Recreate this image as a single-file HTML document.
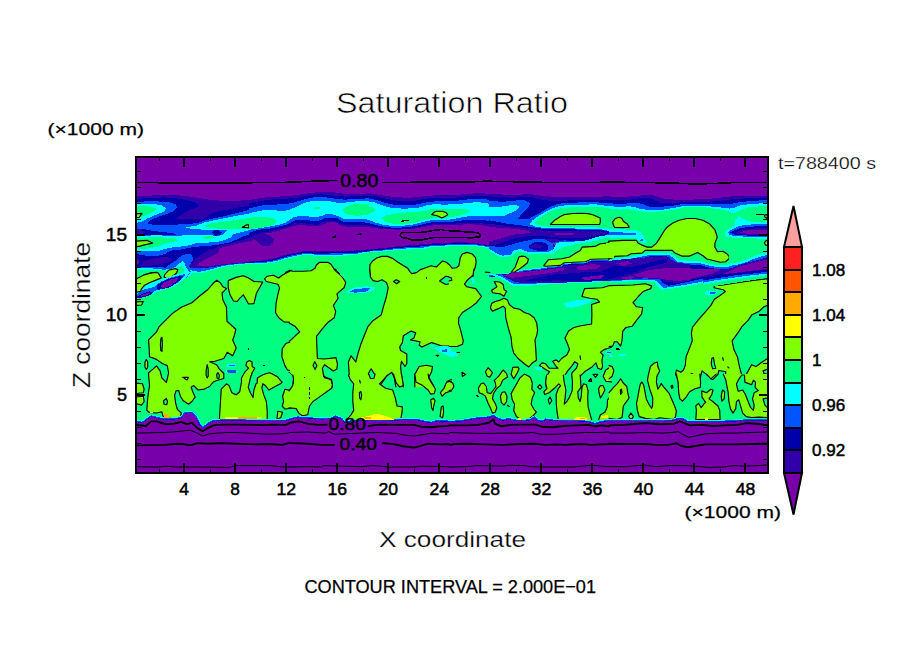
<!DOCTYPE html>
<html><head><meta charset="utf-8"><title>Saturation Ratio</title>
<style>
html,body{margin:0;padding:0;background:#fff;}
svg{display:block;font-family:"Liberation Sans",sans-serif;}
.c{shape-rendering:crispEdges;}
.t{fill:#000;}
.tb{fill:#000;stroke:#000;stroke-width:0.5;}
.tb2{fill:#000;stroke:#000;stroke-width:0.25;}
</style></head><body>
<svg width="904" height="654" viewBox="0 0 904 654">
<rect width="904" height="654" fill="#fff"/>
<defs><clipPath id="pc"><rect x="136" y="157" width="632" height="316"/></clipPath></defs>
<g class="c" clip-path="url(#pc)">
<rect x="136" y="157" width="632" height="316" fill="#7800aa"/>
<rect x="136" y="272" width="632" height="155" fill="#00ff80"/>
<polygon fill="#3200aa"  points="135.3,196.4 145.9,195.8 156.5,195.3 173.8,195.0 185.8,196.0 192.4,196.9 199.0,198.0 207.0,199.3 215.0,200.4 233.5,200.9 242.8,200.4 250.8,199.8 250.8,277.6 135.3,277.6"/>
<polygon fill="#0000aa"  points="135.3,199.0 149.9,198.0 164.5,197.4 175.1,198.2 185.8,200.0 193.7,201.9 198.4,204.3 199.0,206.6 193.7,208.6 187.1,211.2 180.4,215.2 177.1,218.5 191.1,218.9 204.3,218.5 208.3,215.2 215.0,211.9 225.6,209.9 236.2,207.9 244.2,206.6 250.8,205.4 250.8,277.6 135.3,277.6"/>
<polygon fill="#3200aa"  points="135.3,229.2 141.3,229.2 143.9,231.8 144.6,234.5 135.3,234.9"/>
<polygon fill="#3200aa"  points="141.9,262.7 145.9,260.4 153.9,258.4 163.2,257.0 169.8,257.7 172.5,259.7 168.5,262.3 160.5,264.3 149.9,265.9 142.6,266.3"/>
<polygon fill="#3200aa"  points="188.4,266.7 190.4,263.7 193.7,260.4 197.7,257.0 202.3,253.7 206.3,251.3 209.6,249.5 215.0,248.4 218.7,246.4 222.9,244.4 230.9,243.4 238.9,241.1 245.5,239.4 250.8,237.8 250.8,263.3 236.2,264.6 222.9,265.9 215.0,267.3 204.3,268.3 193.7,268.6"/>
<polygon fill="#7800aa"  points="197.0,265.9 199.0,263.3 202.3,261.0 206.3,259.0 209.6,257.0 214.3,255.0 217.0,253.5 218.9,251.3 219.2,249.1 222.9,247.3 228.2,246.0 234.9,244.2 240.2,243.1 245.5,242.0 250.8,241.1 250.8,261.7 244.2,262.3 236.2,263.0 222.9,264.3 215.0,265.4 209.6,266.2"/>
<polygon fill="#7800aa"  points="135.3,259.3 138.0,259.3 139.0,262.3 138.0,264.3 135.3,264.3"/>
<polygon fill="#0055ff"  points="135.3,201.7 153.9,201.3 168.5,201.9 175.8,204.6 177.1,207.9 173.8,211.2 163.2,215.2 153.9,218.5 148.6,221.2 147.9,223.9 153.9,224.8 169.8,224.8 185.8,224.2 196.4,223.2 204.3,220.8 215.0,218.1 225.6,215.9 236.2,213.2 244.2,211.2 250.8,209.6 250.8,233.8 242.8,236.7 236.2,239.8 230.9,242.0 222.9,243.8 216.3,245.1 209.6,245.8 203.0,246.4 196.4,246.6 189.7,247.7 183.1,249.2 176.5,250.0 169.8,250.8 165.8,253.7 156.5,256.0 148.6,256.0 140.6,255.0 135.3,253.7"/>
<polygon fill="#0055ff"  points="163.2,277.6 164.5,271.0 165.8,267.7 169.8,264.3 175.1,261.0 179.1,257.7 183.1,255.0 187.1,253.7 191.1,254.4 192.4,256.4 193.5,260.1 190.4,263.7 188.7,267.0 192.4,268.3 204.3,268.1 215.0,266.7 222.9,265.0 236.2,263.7 250.8,262.3 250.8,277.6"/>
<polygon fill="#0055ff"  points="135.3,267.0 145.9,267.0 156.5,266.7 165.8,267.7 164.5,277.6 135.3,277.6"/>
<polygon fill="#0000aa"  points="143.9,229.2 156.5,231.4 167.2,232.5 175.8,233.8 175.8,235.1 163.2,235.4 144.6,235.1 135.3,235.4 135.3,228.5"/>
<polygon fill="#0000aa"  points="212.3,232.5 215.0,229.8 218.3,229.6 221.6,232.5 220.3,235.1 215.0,235.8"/>
<polygon fill="#3200aa"  points="135.3,229.4 141.3,229.4 143.9,231.8 144.6,234.5 135.3,234.9"/>
<polygon fill="#00ffff"  points="135.3,203.9 149.9,203.7 160.5,204.9 165.8,207.9 165.2,211.2 156.5,214.6 147.3,218.5 141.9,221.9 135.3,222.9"/>
<polygon fill="#00ffff"  points="184.4,227.8 196.4,225.6 204.3,222.5 216.3,219.9 229.6,217.2 242.8,214.6 250.8,213.6 250.8,229.6 242.8,231.9 236.2,233.3 232.2,234.9 228.2,229.8 222.9,229.8 215.0,229.6 209.6,230.1 199.0,229.4 189.7,228.5"/>
<polygon fill="#00ffff"  points="135.3,235.8 156.5,235.4 176.5,235.8 189.7,235.1 203.0,234.5 211.0,235.1 217.6,236.5 222.9,234.5 225.6,232.2 228.2,229.8 232.2,234.5 231.6,237.1 225.6,239.8 217.6,242.0 209.6,242.4 204.3,243.1 196.4,243.1 191.1,244.7 185.8,246.0 180.4,246.6 172.5,247.3 165.8,248.7 160.5,250.5 147.3,251.3 135.3,251.3"/>
<polygon fill="#00ffff"  points="135.3,268.3 149.9,268.1 163.2,269.6 169.8,269.4 175.1,267.0 179.1,263.7 182.4,261.4 184.4,263.0 185.8,267.0 188.4,269.6 199.0,272.0 209.6,269.6 222.9,265.9 236.2,264.3 250.8,263.0 250.8,277.6 135.3,277.6"/>
<polygon fill="#00ff80"  points="135.3,206.6 147.3,206.2 153.9,207.3 156.5,209.2 153.9,211.9 147.3,214.6 141.9,217.2 135.3,218.5"/>
<polygon fill="#00ff80"  points="203.7,225.6 212.3,223.2 222.9,221.9 236.2,219.9 250.8,217.9 250.8,228.5 244.2,228.5 236.2,228.8 225.6,229.4 216.3,228.5 209.6,227.6"/>
<polygon fill="#00ff80"  points="135.3,238.1 149.9,237.4 163.2,237.5 175.1,238.5 179.1,240.2 173.8,241.8 165.8,243.4 159.2,246.4 147.3,248.7 135.3,248.7"/>
<polygon fill="#00ff80"  points="202.3,237.5 207.0,236.2 212.3,236.2 215.0,237.5 209.6,238.9 204.3,238.9"/>
<polygon fill="#00ff80"  points="135.3,269.9 156.5,269.6 169.8,271.2 176.5,268.6 181.1,265.7 183.4,268.3 184.7,272.3 181.8,277.6 135.3,277.6"/>
<polygon fill="#00ff80"  points="188.4,277.6 192.4,273.0 201.7,273.0 212.3,270.3 225.6,266.6 236.2,265.1 250.8,263.8 250.8,277.6"/>
<polygon fill="#0055ff"  points="182.4,277.6 185.1,272.3 188.4,269.6 191.1,271.6 188.4,275.0 187.1,277.6"/>
<polygon fill="#80ff00" stroke="#000" stroke-width="1.15" stroke-linejoin="round" shape-rendering="geometricPrecision" points="135.3,213.9 141.9,213.4 139.3,217.2 135.3,218.1"/>
<polygon fill="#80ff00" stroke="#000" stroke-width="1.15" stroke-linejoin="round" shape-rendering="geometricPrecision" points="242.2,227.4 246.8,224.8 248.8,224.8 248.8,227.8"/>
<polygon fill="#80ff00" stroke="#000" stroke-width="1.15" stroke-linejoin="round" shape-rendering="geometricPrecision" points="135.3,241.1 147.3,240.4 152.6,243.1 143.3,245.1 139.3,246.4 135.3,246.4"/>
<polygon fill="#80ff00" stroke="#000" stroke-width="1.15" stroke-linejoin="round" shape-rendering="geometricPrecision" points="143.9,275.0 149.9,273.0 156.5,272.3 159.2,274.3 158.5,277.6 143.3,277.6"/>
<polygon fill="#80ff00" stroke="#000" stroke-width="1.15" stroke-linejoin="round" shape-rendering="geometricPrecision" points="164.5,275.0 168.5,270.3 175.1,268.6 177.8,269.6 176.5,273.0 172.5,276.3 169.8,277.6 164.2,277.6"/>
<polygon fill="#3200aa"  points="249.3,200.0 259.3,198.2 269.9,196.9 283.2,196.4 295.1,195.3 305.8,193.7 316.4,192.4 324.3,191.7 332.3,192.0 342.9,193.7 356.2,194.0 370.8,193.3 370.8,227.4 360.2,226.5 348.2,226.9 341.6,225.8 336.3,222.5 331.0,221.9 324.3,223.9 319.0,226.5 311.1,226.1 303.1,225.2 295.1,225.6 288.5,227.8 280.5,230.5 271.2,232.7 263.3,233.8 258.0,235.8 254.0,238.5 249.3,242.4"/>
<polygon fill="#3200aa"  points="258.0,235.1 263.3,233.8 269.9,235.1 273.9,239.1 273.2,243.1 268.6,246.4 262.6,246.4 258.0,242.4 254.0,239.1 249.3,240.4 249.3,236.5"/>
<polygon fill="#0000aa"  points="249.3,203.0 259.3,201.3 269.9,199.6 283.2,199.0 295.1,198.0 305.8,196.0 313.7,194.6 321.7,194.4 329.6,195.0 337.6,196.2 345.6,196.6 356.2,196.4 370.8,195.6 370.8,225.8 360.2,224.8 348.2,224.8 340.3,224.2 335.0,220.8 329.6,220.5 323.0,221.9 317.7,224.8 311.1,224.2 303.1,223.2 295.1,223.2 287.2,226.5 279.2,228.8 271.2,231.2 263.3,232.2 255.3,234.5 249.3,238.1"/>
<polygon fill="#0055ff"  points="249.3,208.3 256.6,206.6 263.3,205.3 273.9,204.6 284.5,204.3 292.5,203.0 300.4,200.6 307.1,198.6 313.7,197.3 324.3,197.3 332.3,198.0 337.6,199.3 345.6,199.6 356.2,199.0 370.8,198.2 370.8,223.2 360.2,221.9 350.9,221.9 342.9,221.6 337.6,218.5 332.3,217.6 325.7,217.9 321.7,219.9 316.4,221.2 308.4,220.3 300.4,219.5 295.1,220.3 287.2,224.5 279.2,226.5 269.9,228.5 258.0,229.8 249.3,232.7"/>
<polygon fill="#00ffff"  points="249.3,213.2 258.0,211.2 263.3,210.2 273.9,210.2 283.2,211.0 288.5,210.2 293.8,207.9 300.4,204.6 307.1,202.2 312.4,200.9 321.7,200.6 329.6,201.3 336.3,202.6 342.9,203.0 350.9,201.9 360.2,200.9 370.8,200.9 370.8,219.9 360.2,218.9 350.9,218.9 342.9,218.5 337.6,215.9 332.3,214.3 325.7,214.3 321.7,215.9 316.4,217.2 307.1,216.3 300.4,215.9 293.8,217.2 285.8,222.5 279.2,224.8 269.9,226.5 258.0,228.5 249.3,229.8"/>
<polygon fill="#00ff80"  points="249.3,217.6 258.0,217.2 267.3,217.2 273.9,218.5 277.2,221.6 273.9,224.5 265.9,226.9 258.0,228.2 249.3,228.8"/>
<polygon fill="#00ff80"  points="313.1,207.9 316.4,207.0 320.4,207.5 319.7,208.9 315.0,209.0"/>
<polygon fill="#00ff80"  points="342.9,209.9 345.6,206.6 352.2,204.6 361.5,203.9 370.8,204.6 370.8,213.9 364.2,215.2 356.2,215.9 348.2,214.6 344.3,212.6"/>
<polygon fill="#000"  points="331.6,237.5 336.0,235.1 336.0,237.8"/>
<polygon fill="#000"  points="356.9,234.9 360.2,232.2 362.2,234.5"/>
<polygon fill="#3200aa"  points="249.3,261.0 263.3,260.4 276.5,257.7 284.5,255.0 293.8,253.1 303.1,251.3 316.4,251.3 329.6,251.1 342.9,251.1 356.2,250.4 370.8,249.1 370.8,277.6 249.3,277.6"/>
<polygon fill="#0000aa"  points="249.3,261.8 263.3,261.2 276.5,258.5 284.5,255.8 293.8,253.9 303.1,252.1 316.4,252.1 329.6,251.9 342.9,251.9 356.2,251.2 370.8,249.9 370.8,277.6 249.3,277.6"/>
<polygon fill="#0055ff"  points="249.3,262.7 263.3,262.2 276.5,259.8 284.5,257.2 293.8,254.9 303.1,253.3 316.4,253.6 329.6,253.5 342.9,253.3 356.2,252.7 370.8,251.1 370.8,277.6 249.3,277.6"/>
<polygon fill="#00ffff"  points="249.3,263.5 263.3,263.1 276.5,261.0 284.5,258.4 293.8,256.0 303.1,254.3 308.4,253.9 316.4,254.8 329.6,254.8 342.9,254.5 356.2,253.9 362.8,252.4 370.8,251.6 370.8,277.6 249.3,277.6"/>
<polygon fill="#00ff80"  points="249.3,264.5 263.3,264.1 276.5,262.3 284.5,259.7 293.8,257.0 303.1,255.3 308.4,254.8 316.4,256.1 329.6,256.1 342.9,255.7 356.2,255.0 362.8,253.5 370.8,252.4 370.8,277.6 249.3,277.6"/>
<polygon fill="#80ff00" stroke="#000" stroke-width="1.15" stroke-linejoin="round" shape-rendering="geometricPrecision" points="283.2,277.6 285.8,272.3 289.8,270.3 292.5,271.2 303.1,271.2 311.1,270.7 315.0,268.3 316.4,265.0 319.7,262.3 327.7,262.3 331.0,264.3 333.6,268.3 336.3,271.6 340.3,275.0 342.9,277.6"/>
<polygon fill="#3200aa"  points="369.3,193.7 378.0,194.6 385.9,196.0 396.5,197.3 407.2,197.7 416.5,197.3 425.8,196.0 436.4,195.3 449.6,195.0 460.3,194.6 468.2,193.7 478.9,193.3 490.8,193.7 490.8,226.9 485.5,225.8 478.9,224.8 470.9,224.2 462.9,224.5 449.6,224.8 439.0,224.8 431.1,225.6 423.1,227.2 409.8,229.3 396.5,229.6 378.0,228.5 369.3,227.2"/>
<polygon fill="#0000aa"  points="369.3,196.0 375.3,196.4 383.3,198.2 393.9,200.4 404.5,200.9 415.1,200.6 423.1,199.0 432.4,198.2 444.3,198.0 455.0,197.7 462.9,196.6 470.9,195.6 481.5,195.6 490.8,196.4 490.8,224.8 482.8,223.2 476.2,222.5 468.2,222.5 460.3,223.2 449.6,223.9 436.4,223.9 428.4,224.8 420.4,226.5 409.8,228.5 396.5,228.9 385.9,228.5 378.0,227.2 369.3,225.6"/>
<polygon fill="#0055ff"  points="369.3,198.6 376.6,200.0 383.3,202.2 391.2,204.3 401.9,205.3 413.8,204.9 423.1,203.0 429.7,201.7 439.0,201.3 449.6,201.3 460.3,200.4 468.2,199.3 476.2,198.6 484.2,199.0 490.8,200.0 490.8,221.2 481.5,219.9 473.5,219.5 465.6,219.9 457.6,221.2 449.6,221.9 440.4,221.9 432.4,222.3 424.4,223.9 416.5,225.8 407.2,227.2 396.5,227.8 385.9,227.2 376.6,225.2 369.3,223.2"/>
<polygon fill="#00ffff"  points="369.3,201.7 375.3,202.6 380.6,204.9 387.3,207.0 393.9,208.3 404.5,208.6 415.1,208.3 423.1,206.6 428.4,204.9 433.7,204.3 444.3,204.6 455.0,204.3 462.9,203.5 470.9,202.6 478.9,202.2 485.5,203.0 490.8,204.3 490.8,216.5 480.2,215.9 470.9,215.9 462.9,217.2 456.3,218.5 449.6,219.5 439.0,219.9 431.1,220.3 423.1,221.9 415.1,224.2 404.5,225.6 393.9,226.1 383.3,224.8 375.3,222.5 369.3,220.3"/>
<polygon fill="#00ff80"  points="369.3,207.0 373.3,207.5 375.0,209.9 373.3,212.3 369.3,212.8"/>
<polygon fill="#00ff80"  points="381.3,218.1 385.9,215.5 393.9,213.9 404.5,212.6 415.1,211.9 425.8,211.0 431.1,209.2 439.0,208.6 449.6,208.9 462.9,209.2 468.2,209.9 470.6,211.2 465.6,213.6 457.6,215.9 449.6,217.2 441.7,218.1 432.4,218.5 425.8,219.2 420.4,221.2 415.1,222.9 404.5,223.9 393.9,223.9 385.9,221.9"/>
<polygon fill="#80ff00" stroke="#000" stroke-width="1.15" stroke-linejoin="round" shape-rendering="geometricPrecision" points="431.7,214.6 433.7,212.6 436.4,211.2 442.3,211.2 446.3,212.8 447.7,214.6 445.0,216.5 441.7,218.1 439.0,216.5 436.4,215.5"/>
<polyline fill="none" stroke="#000" stroke-width="1.3" stroke-linejoin="round" points="401.2,221.6 404.5,220.5 408.5,220.9"/>
<polygon fill="none" stroke="#000" stroke-width="1.7" stroke-linejoin="round" points="400.5,233.8 401.9,232.5 420.4,232.5 428.4,231.4 436.4,229.8 441.7,229.6 444.3,230.5 455.0,230.9 465.6,231.8 476.2,232.5 479.5,233.5 480.2,236.7 472.2,237.8 462.9,237.5 449.6,237.5 433.7,237.5 428.4,238.5 420.4,240.2 412.5,240.2 407.2,238.5 401.9,237.5 400.3,235.8"/>
<polygon fill="#3200aa"  points="369.3,249.1 383.3,248.1 396.5,246.4 409.8,245.1 423.1,244.2 433.7,243.4 444.3,243.1 455.0,242.4 465.6,242.4 476.2,243.1 484.2,244.2 490.8,245.5 490.8,277.6 369.3,277.6"/>
<polygon fill="#0000aa"  points="369.3,249.9 383.3,248.9 396.5,247.2 409.8,245.9 423.1,245.0 433.7,244.2 444.3,243.9 455.0,243.2 465.6,243.2 476.2,243.9 484.2,245.0 490.8,246.3 490.8,277.6 369.3,277.6"/>
<polygon fill="#0055ff"  points="369.3,250.8 383.3,249.7 396.5,248.1 409.8,247.1 423.1,246.3 433.7,245.1 444.3,244.7 455.0,244.0 465.6,243.9 476.2,244.4 484.2,245.5 490.8,246.8 490.8,277.6 369.3,277.6"/>
<polygon fill="#00ffff"  points="369.3,251.6 383.3,250.5 396.5,249.1 409.8,248.3 423.1,247.7 431.1,246.2 439.0,245.9 449.6,245.2 462.9,244.7 473.5,245.0 481.5,246.0 490.8,247.3 490.8,277.6 369.3,277.6"/>
<polygon fill="#00ff80"  points="369.3,252.5 383.3,251.5 396.5,250.1 409.8,249.5 423.1,249.1 431.1,247.3 439.0,247.1 449.6,246.4 462.9,245.8 473.5,246.0 481.5,247.1 490.8,248.4 490.8,277.6 369.3,277.6"/>
<polygon fill="#80ff00" stroke="#000" stroke-width="1.15" stroke-linejoin="round" shape-rendering="geometricPrecision" points="370.3,277.6 369.7,269.6 370.0,264.3 372.7,261.0 376.6,258.0 381.9,256.4 387.3,256.4 392.6,258.4 397.9,262.3 403.2,265.4 407.8,268.3 409.8,271.6 411.8,273.6 416.5,272.6 420.4,269.6 425.8,267.7 431.1,265.7 436.4,267.0 439.0,264.3 442.3,261.0 446.3,262.3 449.6,265.0 452.3,268.3 456.3,267.7 458.9,265.7 460.3,257.7 462.3,254.0 466.9,252.4 472.2,254.0 475.5,257.7 476.2,262.3 474.9,268.3 472.9,273.0 472.9,277.6"/>
<polygon fill="#3200aa"  points="489.3,193.7 503.3,194.6 516.5,195.0 527.2,194.2 535.1,194.6 543.1,196.4 556.4,196.6 569.6,196.9 582.9,196.9 596.2,196.6 610.8,196.4 610.8,253.7 489.3,253.7"/>
<polygon fill="#7800aa"  points="489.3,226.5 498.0,227.8 509.9,228.5 523.2,229.8 529.8,231.8 533.8,233.5 523.2,234.5 513.9,235.8 507.3,237.8 500.6,241.1 494.0,243.1 489.3,243.8"/>
<polygon fill="#0000aa"  points="489.3,196.4 503.3,197.3 513.9,197.7 524.5,196.6 533.8,197.3 540.4,199.6 548.4,200.6 561.7,200.6 572.3,200.4 582.9,200.1 596.2,199.8 610.8,199.6 610.8,233.1 605.5,232.2 596.2,231.2 582.9,230.9 569.6,230.9 556.4,231.4 543.1,230.5 529.8,229.2 523.2,227.8 509.9,226.5 498.0,224.8 489.3,223.9"/>
<polygon fill="#0000aa"  points="533.8,235.8 552.4,236.7 564.3,238.1 577.6,238.3 588.2,237.0 596.2,235.4 602.8,233.8 609.2,233.3 602.8,236.1 594.9,238.3 585.6,240.4 575.0,241.0 564.3,240.2 553.7,239.1 543.1,238.6 533.8,239.4 523.2,241.5 512.6,244.2 503.3,247.3 489.3,246.0 489.3,243.4 495.3,242.8 501.9,240.4 508.6,237.8 515.2,236.2 524.5,234.9"/>
<polygon fill="#7800aa"  points="553.7,233.1 564.3,232.5 575.0,233.1 572.3,234.9 561.7,235.1 555.0,234.5"/>
<polygon fill="#3200aa"  points="489.3,241.1 495.3,240.2 501.9,238.1 508.6,235.8 515.2,234.5 524.5,233.5 533.8,233.1 533.8,235.8 524.5,236.7 515.2,238.1 508.6,240.2 501.9,242.8 495.3,244.7 489.3,245.5"/>
<polygon fill="#0055ff"  points="489.3,200.9 500.6,201.7 511.2,201.3 519.2,200.0 525.8,200.6 529.8,203.3 529.2,206.6 525.2,210.6 521.2,214.6 517.9,218.5 523.2,218.9 529.8,218.5 533.8,215.9 540.4,212.6 545.8,209.2 551.1,206.6 556.4,204.3 564.3,203.0 575.0,202.6 585.6,202.3 593.5,201.9 600.2,202.6 610.8,203.3 610.8,231.8 604.2,230.5 596.2,229.6 582.9,229.6 569.6,229.4 556.4,229.4 543.1,228.8 529.8,226.9 524.5,225.8 516.5,224.8 505.9,223.5 498.0,221.9 489.3,220.3"/>
<polygon fill="#0055ff"  points="489.3,246.0 503.3,247.3 507.3,245.8 513.9,243.8 523.2,241.5 533.8,239.1 540.4,238.5 545.8,239.8 552.4,243.1 553.7,247.1 552.4,256.4 489.3,256.4"/>
<polygon fill="#0055ff"  points="552.4,243.1 564.3,240.4 575.0,241.2 585.6,240.7 594.9,238.6 602.8,236.3 609.2,233.5 610.8,233.8 610.8,235.8 602.8,236.7 596.2,237.8 588.2,240.4 582.9,241.8 569.6,242.4 559.0,243.1 555.0,245.8"/>
<polygon fill="#0000aa"  points="528.5,245.8 533.8,242.4 540.4,241.8 545.8,243.1 548.4,246.4 548.4,250.4 543.1,250.8 535.1,250.4 529.8,248.4"/>
<polygon fill="#3200aa"  points="529.8,246.4 535.1,244.4 540.4,244.7 543.1,246.4 540.4,247.7 532.5,247.7"/>
<polygon fill="#00ffff"  points="489.3,206.6 498.0,207.0 505.9,205.9 513.9,204.9 518.5,205.7 519.2,207.9 515.2,211.0 509.9,213.2 504.6,215.5 498.0,215.9 489.3,215.9"/>
<polygon fill="#00ffff"  points="529.2,224.2 532.5,220.5 537.8,216.5 543.1,213.2 548.4,210.2 553.7,207.9 559.0,206.2 565.7,205.3 575.0,204.9 585.6,204.6 596.2,204.3 600.2,205.3 610.8,205.9 610.8,231.4 604.2,229.8 596.2,228.8 585.6,228.8 575.0,228.5 564.3,228.2 553.7,228.5 543.1,227.8 535.1,226.5 529.2,224.2"/>
<polygon fill="#00ffff"  points="489.3,249.1 495.3,252.4 499.3,254.8 503.3,255.7 511.2,254.4 513.9,250.4 520.5,249.1 527.2,251.7 533.8,252.4 548.4,252.1 553.7,249.1 555.0,245.8 556.4,243.1 559.0,242.4 569.6,241.8 582.9,241.1 588.2,239.8 596.2,237.1 602.8,235.8 610.8,234.5 610.8,277.6 489.3,277.6"/>
<polygon fill="#00ff80"  points="535.1,222.5 539.1,218.5 544.4,214.6 549.7,211.9 556.4,209.2 563.0,207.9 572.3,207.3 582.9,207.0 593.5,206.6 600.2,207.3 610.8,207.9 610.8,228.5 604.2,228.0 596.2,227.4 585.6,227.4 575.0,227.2 564.3,226.8 553.7,226.9 543.1,226.1 535.1,224.2"/>
<polygon fill="#00ff80"  points="489.3,251.7 494.0,253.7 498.0,256.4 504.6,257.0 512.6,255.7 516.5,252.4 521.9,251.7 528.5,253.7 535.1,254.4 545.8,254.4 553.7,253.5 559.0,249.7 564.3,247.1 572.3,245.1 582.9,243.1 590.9,241.8 598.9,239.4 605.5,238.1 610.8,236.5 610.8,277.6 489.3,277.6"/>
<polygon fill="#00ffff"  points="489.3,274.4 500.6,273.9 511.2,272.3 523.2,269.4 533.8,268.3 543.1,267.4 548.4,266.2 560.4,265.4 564.3,262.7 575.0,262.3 585.6,261.7 590.9,259.3 601.5,259.0 610.8,258.8 610.8,277.6 489.3,277.6"/>
<polygon fill="#0055ff"  points="489.3,275.5 500.6,275.0 511.2,273.4 523.2,270.4 533.8,269.3 543.1,268.3 548.4,267.1 560.4,266.3 564.3,263.8 575.0,263.3 585.6,262.6 590.9,260.4 601.5,260.0 610.8,259.7 610.8,277.6 489.3,277.6"/>
<polygon fill="#0000aa"  points="489.3,276.6 500.6,276.0 511.2,274.4 523.2,271.5 533.8,270.2 543.1,269.3 548.4,268.1 560.4,267.3 564.3,264.7 575.0,264.1 585.6,263.4 590.9,261.3 601.5,260.9 610.8,260.6 610.8,277.6 489.3,277.6"/>
<polygon fill="#3200aa"  points="511.2,276.0 523.2,272.6 533.8,271.1 543.1,270.2 548.4,269.0 560.4,268.2 564.3,265.7 575.0,264.9 585.6,264.2 590.9,262.2 596.2,261.8 596.2,277.6 511.2,277.6 610.8,277.6 489.3,277.6"/>
<polygon fill="#7800aa"  points="520.5,275.0 529.8,272.0 543.1,271.0 551.1,269.6 561.7,268.6 564.3,269.6 556.4,271.2 545.8,273.0 533.8,275.0 524.5,277.6 516.5,277.6"/>
<polygon fill="#7800aa"  points="576.3,266.3 585.6,265.0 593.5,264.1 600.2,264.6 598.9,267.7 590.9,269.4 582.9,269.9 576.3,269.4"/>
<polygon fill="#7800aa"  points="553.7,277.6 564.3,275.0 575.0,273.6 585.6,273.0 590.9,275.0 590.9,277.6"/>
<polygon fill="#80ff00" stroke="#000" stroke-width="1.15" stroke-linejoin="round" shape-rendering="geometricPrecision" points="550.4,224.5 555.0,219.9 560.4,216.5 564.3,214.6 572.3,213.5 580.3,213.2 588.2,213.6 593.5,215.0 600.2,218.1 600.4,221.9 599.5,224.5"/>
<polygon fill="#80ff00" stroke="#000" stroke-width="1.15" stroke-linejoin="round" shape-rendering="geometricPrecision" points="511.2,272.3 515.2,267.0 517.2,261.7 518.9,257.0 521.9,256.1 525.2,256.6 528.5,259.3 527.2,263.0 523.2,266.3 518.5,269.6 514.6,272.0"/>
<polygon fill="#80ff00" stroke="#000" stroke-width="1.15" stroke-linejoin="round" shape-rendering="geometricPrecision" points="543.8,265.7 548.4,259.7 561.7,258.8 569.6,257.0 575.0,253.5 580.3,250.4 582.3,247.1 594.9,246.4 600.2,243.8 606.8,243.1 611.5,241.8 611.5,258.8 601.5,259.0 590.9,259.3 585.6,261.7 575.0,262.3 564.3,262.7 560.4,265.4 545.8,266.3"/>
<polygon fill="#3200aa"  points="609.3,196.6 623.3,196.9 636.5,196.0 644.5,195.0 653.8,195.3 663.1,198.6 673.7,199.6 689.6,199.6 702.9,199.3 716.2,198.2 730.8,196.6 730.8,277.6 609.3,277.6"/>
<polygon fill="#0000aa"  points="609.3,199.6 623.3,200.0 633.9,199.3 640.5,198.0 648.5,198.0 655.1,200.4 660.4,202.6 671.1,203.0 684.3,202.2 697.6,202.2 710.9,201.7 720.2,200.9 730.8,199.6 730.8,277.6 609.3,277.6"/>
<polygon fill="#0055ff"  points="609.3,203.3 620.6,203.9 629.9,203.3 637.9,203.0 644.5,204.6 649.8,207.0 656.5,207.3 663.1,206.6 671.1,205.9 681.7,204.3 692.3,203.9 705.6,203.9 716.2,204.3 730.8,204.3 730.8,277.6 609.3,277.6"/>
<polygon fill="#00ffff"  points="609.3,206.2 620.6,207.0 628.6,206.2 633.9,207.0 639.2,208.6 647.2,209.9 655.1,210.2 663.1,209.6 673.7,207.9 684.3,205.9 695.0,205.7 705.6,205.9 716.2,207.0 724.2,207.9 730.8,208.3 730.8,277.6 609.3,277.6"/>
<polygon fill="#00ff80"  points="609.3,208.9 620.6,209.6 628.6,209.2 633.9,210.2 641.9,211.5 649.8,212.3 655.1,211.9 665.8,211.0 676.4,209.2 684.3,207.5 695.0,207.3 705.6,207.5 716.2,208.9 724.2,210.2 730.8,211.2 730.8,277.6 609.3,277.6"/>
<polygon fill="#00ffff"  points="609.3,228.8 623.3,229.2 636.5,230.5 641.2,232.2 643.2,235.8 645.2,239.8 648.2,243.4 644.8,243.4 641.2,241.8 637.2,239.4 635.9,237.8 623.3,238.1 609.3,237.5"/>
<polygon fill="#0055ff"  points="609.3,232.2 623.3,232.5 635.2,233.1 636.5,234.5 623.3,234.9 609.3,235.1"/>
<polygon fill="#0055ff"  points="639.9,241.1 641.9,238.1 643.5,241.1"/>
<polygon fill="#00ffff"  points="730.8,228.8 726.8,229.8 724.8,232.5 725.5,235.8 728.1,237.8 730.8,238.5"/>
<polygon fill="#0055ff"  points="730.8,230.5 728.4,231.4 727.9,233.8 728.8,235.4 730.8,235.8"/>
<polygon fill="#00ffff"  points="609.3,260.4 616.6,258.0 629.9,257.0 636.5,255.3 645.8,253.5 653.8,252.7 663.1,252.7 671.1,253.5 675.0,256.4 679.0,259.7 689.6,261.0 700.3,261.0 708.2,263.3 716.2,265.0 725.5,265.0 730.8,264.1 730.8,277.6 609.3,277.6"/>
<polygon fill="#0055ff"  points="609.3,261.7 618.0,259.7 629.9,258.8 639.2,257.0 648.5,255.3 663.1,254.8 669.7,255.3 673.7,258.4 677.7,261.7 687.0,263.0 700.3,263.3 708.2,265.4 716.2,267.0 725.5,267.3 730.8,266.3 730.8,277.6 609.3,277.6"/>
<polygon fill="#0000aa"  points="609.3,262.7 619.3,261.0 631.2,260.1 640.5,258.4 649.8,256.4 663.1,256.0 668.4,256.8 672.4,260.4 676.4,263.3 687.0,264.6 700.3,265.0 708.2,267.3 716.2,269.0 724.2,269.6 730.8,269.0 730.8,277.6 609.3,277.6"/>
<polygon fill="#0055ff"  points="636.5,268.6 649.8,267.0 663.1,266.3 671.1,267.0 668.4,268.6 655.1,269.4 641.9,269.9"/>
<polygon fill="#3200aa"  points="615.3,263.0 620.6,260.6 628.6,260.4 631.9,262.3 629.9,265.7 623.3,267.7 618.0,267.0"/>
<polygon fill="#7800aa"  points="621.9,262.3 625.9,262.0 626.6,263.0 622.6,263.3"/>
<polygon fill="#3200aa"  points="629.9,277.6 641.9,271.6 656.5,268.6 669.7,266.7 679.0,266.3 689.6,267.7 702.9,270.3 713.5,273.0 720.2,275.6 730.8,271.0 730.8,277.6"/>
<polygon fill="#7800aa"  points="632.6,277.6 643.2,273.0 656.5,270.3 669.7,268.3 679.0,268.1 689.6,269.6 702.9,272.3 713.5,275.0 716.2,277.6"/>
<polygon fill="#7800aa"  points="725.5,277.6 726.8,273.6 730.8,272.3 730.8,277.6"/>
<polygon fill="#80ff00" stroke="#000" stroke-width="1.15" stroke-linejoin="round" shape-rendering="geometricPrecision" points="612.7,221.9 615.3,218.5 619.3,217.2 621.9,218.5 623.3,221.2 627.3,223.9 629.2,227.2 623.3,227.6 614.6,227.4 613.3,224.8"/>
<polygon fill="#80ff00" stroke="#000" stroke-width="1.15" stroke-linejoin="round" shape-rendering="geometricPrecision" points="608.7,241.1 623.3,240.4 636.5,240.4 637.9,243.1 641.9,245.1 647.2,247.1 651.8,247.1 656.5,243.1 660.4,237.1 664.4,230.5 667.1,227.2 672.4,223.2 679.0,220.3 687.0,218.5 695.0,218.5 702.9,220.3 709.6,223.9 714.9,229.8 717.3,237.1 714.9,243.1 714.9,247.1 717.5,251.7 722.8,251.3 726.8,253.7 729.5,257.0 728.8,259.0 725.5,261.7 720.2,262.3 706.9,259.0 702.9,255.7 697.6,252.4 689.6,256.1 681.7,256.1 675.0,253.1 672.4,250.4 645.2,250.4 641.9,253.1 631.2,253.7 627.3,255.7 615.3,256.4 608.7,259.3"/>
<rect x="606" y="242.6" width="8" height="15.4" fill="#80ff00"/>
<polygon fill="#3200aa"  points="729.2,196.6 743.1,196.0 756.4,195.6 769.6,195.6 769.6,277.6 729.2,277.6"/>
<polygon fill="#0000aa"  points="729.2,199.6 737.8,199.0 745.8,198.2 756.4,198.0 769.6,198.0 769.6,277.6 729.2,277.6"/>
<polygon fill="#0055ff"  points="729.2,204.3 733.8,203.3 740.4,201.9 748.4,201.3 756.4,200.6 763.0,200.4 769.6,200.6 769.6,277.6 729.2,277.6"/>
<polygon fill="#00ffff"  points="729.2,208.6 733.8,207.9 737.8,205.9 745.8,204.6 753.7,203.9 761.7,203.3 769.6,203.0 769.6,277.6 729.2,277.6"/>
<polygon fill="#00ff80"  points="729.2,211.5 733.8,213.6 739.1,211.2 743.1,209.2 748.4,207.5 756.4,206.6 764.3,206.2 769.6,206.2 769.6,277.6 729.2,277.6"/>
<polygon fill="#00ffff"  points="725.2,232.2 727.8,229.2 733.8,225.6 735.1,220.8 739.1,215.9 742.4,218.1 748.4,221.2 756.4,222.1 769.6,221.2 769.6,238.5 756.4,238.5 743.1,238.1 733.8,238.1 728.5,235.8"/>
<polygon fill="#0055ff"  points="727.8,232.7 731.2,229.8 737.8,226.5 745.8,224.8 756.4,224.2 769.6,223.9 769.6,236.7 756.4,236.7 743.1,236.5 733.8,236.2 729.8,234.9"/>
<polygon fill="#0000aa"  points="729.8,232.7 733.8,230.5 740.4,228.2 748.4,226.9 759.0,226.1 769.6,225.8 769.6,235.8 756.4,235.8 743.1,235.4 735.1,235.1"/>
<polygon fill="#3200aa"  points="735.1,232.7 740.4,230.5 748.4,228.8 759.0,228.2 769.6,227.8 769.6,234.9 756.4,234.9 743.1,234.5 737.8,234.1"/>
<polygon fill="#7800aa"  points="739.1,232.7 744.4,230.9 752.4,229.8 761.7,229.6 769.6,229.6 769.6,233.8 756.4,233.8 745.8,233.5"/>
<polygon fill="#00ffff"  points="729.2,263.7 737.8,262.3 745.8,259.7 753.7,256.4 761.7,253.7 769.6,251.7 769.6,277.6 729.2,277.6"/>
<polygon fill="#0055ff"  points="729.2,265.9 737.8,264.6 745.8,262.3 753.7,259.0 761.7,256.4 769.6,254.4 769.6,277.6 729.2,277.6"/>
<polygon fill="#0000aa"  points="729.2,268.3 737.8,267.0 745.8,264.6 753.7,261.7 761.7,258.8 769.6,256.6 769.6,277.6 729.2,277.6"/>
<polygon fill="#3200aa"  points="729.2,271.2 737.8,269.4 745.8,267.0 753.7,264.1 761.7,261.0 769.6,258.8 769.6,277.6 729.2,277.6"/>
<polygon fill="#7800aa"  points="729.2,275.0 737.8,271.6 745.8,269.0 753.7,265.9 761.7,263.0 769.6,260.6 769.6,277.6 729.2,277.6"/>
<polygon fill="#80ff00" stroke="#000" stroke-width="1.15" stroke-linejoin="round" shape-rendering="geometricPrecision" points="764.3,215.0 767.3,214.6 767.3,218.5 765.0,217.2"/>
<polygon fill="#80ff00" stroke="#000" stroke-width="1.15" stroke-linejoin="round" shape-rendering="geometricPrecision" points="764.3,242.8 766.3,240.4 767.7,240.7 767.7,245.1 765.7,245.1"/>
<polyline fill="none" stroke="#000" stroke-width="1.3" stroke-linejoin="round" points="756.4,214.8 764.3,214.8"/>
<polyline fill="none" stroke="#000" stroke-width="1.6" stroke-linejoin="round" points="133.5,182.6 200.8,182.9 278.7,182.6 314.1,181.2 338.1,180.4"/>
<polyline fill="none" stroke="#000" stroke-width="1.6" stroke-linejoin="round" points="382.0,182.6 450.0,181.9"/>
<polyline fill="none" stroke="#000" stroke-width="1.6" stroke-linejoin="round" points="450.0,182.2 471.2,181.9 485.4,181.2 503.1,181.5 556.2,182.6 616.4,182.2 669.5,182.9 694.2,184.0 711.9,183.6 733.2,182.6 768.6,182.6"/>
<polygon fill="#00ffff"  points="135.3,293.8 141.3,289.8 144.6,285.8 149.9,283.2 156.5,280.8 163.2,278.5 169.8,276.5 176.5,274.6 183.1,272.6 187.1,269.9 189.7,272.6 187.1,276.5 183.1,280.5 177.8,284.5 172.5,287.2 164.5,289.8 156.5,292.5 149.9,295.1 143.3,297.1 135.3,298.9"/>
<polygon fill="#0055ff"  points="135.3,295.1 143.3,289.8 149.9,287.8 156.5,284.8 161.9,281.2 169.8,277.9 180.4,275.2 184.4,273.9 185.8,275.2 182.4,278.5 177.8,282.5 172.5,285.6 164.5,288.2 156.5,290.5 149.9,293.1 143.3,295.8 135.3,297.8"/>
<polygon fill="#00ffff"  points="147.9,284.8 152.6,283.2 156.5,283.9 155.2,286.5 149.9,288.2 147.3,287.2"/>
<polygon fill="#0000aa"  points="156.5,285.8 161.9,281.9 169.8,278.5 177.8,276.5 183.1,275.9 180.4,279.9 175.1,283.9 169.8,287.2 163.2,289.2 157.9,289.8"/>
<polygon fill="#7800aa"  points="160.5,285.2 165.8,281.6 172.5,278.9 177.8,277.9 176.5,281.2 171.2,285.2 165.8,287.8 161.9,287.8"/>
<polygon fill="#0000aa"  points="137.3,296.5 143.3,293.1 149.9,291.4 153.2,292.7 148.6,295.8 141.9,297.5 137.3,298.1"/>
<polygon fill="#7800aa"  points="140.0,295.8 144.6,293.8 149.2,292.7 149.9,293.8 145.9,295.4 141.3,296.7"/>
<polygon fill="#80ff00" stroke="#000" stroke-width="1.15" stroke-linejoin="round" shape-rendering="geometricPrecision" points="135.3,279.5 143.3,275.2 148.6,273.6 153.9,272.6 157.9,272.8 161.2,277.9 156.5,279.9 149.9,282.5 144.6,285.2 141.3,289.2 140.9,291.2 135.3,292.5"/>
<polygon fill="#80ff00" stroke="#000" stroke-width="1.15" stroke-linejoin="round" shape-rendering="geometricPrecision" points="135.3,301.9 143.3,301.5 141.5,305.0 135.3,305.4"/>
<polygon fill="#80ff00" stroke="#000" stroke-width="1.15" stroke-linejoin="round" shape-rendering="geometricPrecision" points="148.6,372.7 153.0,369.1 156.5,365.9 160.1,370.9 161.9,378.0 166.3,382.4 167.5,378.0 168.6,372.7 167.2,365.6 162.7,363.8 156.5,359.4 149.5,356.7 149.1,347.9 148.6,339.9 156.5,331.9 159.2,326.6 165.4,320.4 172.5,313.4 181.3,307.2 191.9,302.7 199.0,296.5 207.9,289.5 213.2,283.3 216.7,280.3 220.3,282.7 222.9,286.8 226.5,288.6 222.0,293.0 222.9,300.1 226.5,307.2 227.0,321.3 235.8,329.3 234.4,335.5 232.7,339.9 236.2,347.9 232.7,355.8 227.3,352.3 223.8,358.5 215.0,361.2 209.6,361.7 216.7,364.7 219.4,369.1 223.8,373.5 223.8,378.5 217.6,380.3 213.2,382.0 209.6,386.5 204.3,389.1 198.1,390.0 193.7,385.6 191.1,387.3 192.8,391.8 195.1,397.1 191.9,401.5 188.4,404.2 183.1,400.6 180.4,396.2 178.7,390.5 176.0,390.9 174.6,395.3 175.7,403.3 177.4,409.5 181.3,413.0 180.4,417.4 174.2,418.3 165.4,418.3 162.7,415.7 161.9,411.8 156.5,413.0 149.5,412.5 146.8,410.4 147.7,398.0 149.5,385.6 148.6,375.0"/>
<polygon fill="#00ff80" stroke="#000" stroke-width="1.15" stroke-linejoin="round" shape-rendering="geometricPrecision" points="161.0,338.1 162.0,337.3 162.4,344.3 161.9,351.4 160.8,350.5 160.4,344.3"/>
<polygon fill="#00ff80" stroke="#000" stroke-width="1.15" stroke-linejoin="round" shape-rendering="geometricPrecision" points="206.1,370.9 207.2,364.7 208.2,369.1 208.2,376.2 207.2,378.0 206.1,375.3"/>
<polygon fill="#00ff80" stroke="#000" stroke-width="1.15" stroke-linejoin="round" shape-rendering="geometricPrecision" points="216.7,374.4 218.0,372.7 219.4,375.3 218.8,378.8 217.1,378.3"/>
<polyline fill="none" stroke="#000" stroke-width="1.15" stroke-linejoin="round" stroke-linecap="round" shape-rendering="geometricPrecision" points="182.7,377.4 188.4,377.4 187.0,380.1 184.0,378.3"/>
<polygon fill="#80ff00" stroke="#000" stroke-width="1.15" stroke-linejoin="round" shape-rendering="geometricPrecision" points="228.2,280.6 236.2,277.4 243.3,275.7 248.6,278.0 253.9,281.5 262.7,282.0 260.1,286.8 256.5,293.0 253.9,303.6 248.6,304.0 245.9,299.2 243.3,294.8 239.7,298.3 237.1,301.5 233.5,301.0 230.0,294.8 228.2,287.7"/>
<polygon fill="#80ff00"  points="291.1,322.2 284.0,321.9 278.7,317.8 275.5,312.5 276.0,303.6 277.8,294.8 279.6,287.7 277.8,284.2 271.6,282.7 266.3,281.5 264.5,278.8 267.2,276.2 273.4,275.3 278.7,278.0 282.2,275.3 291.1,270.4"/>
<polyline fill="none" stroke="#000" stroke-width="1.15" stroke-linejoin="round" stroke-linecap="round" shape-rendering="geometricPrecision" points="291.1,322.2 284.0,321.9 278.7,317.8 275.5,312.5 276.0,303.6 277.8,294.8 279.6,287.7 277.8,284.2 271.6,282.7 266.3,281.5 264.5,278.8 267.2,276.2 273.4,275.3 278.7,278.0 282.2,275.3 291.1,270.4"/>
<polygon fill="#80ff00"  points="291.1,341.7 285.8,343.5 282.2,348.8 281.9,356.7 284.9,365.6 287.5,370.0 291.1,370.9"/>
<polyline fill="none" stroke="#000" stroke-width="1.15" stroke-linejoin="round" stroke-linecap="round" shape-rendering="geometricPrecision" points="291.1,341.7 285.8,343.5 282.2,348.8 281.9,356.7 284.9,365.6 287.5,370.0 291.1,370.9"/>
<polygon fill="#80ff00"  points="219.4,419.6 219.9,411.2 220.6,399.7 221.2,389.1 226.5,383.8 229.1,385.6 231.8,392.7 236.2,394.8 239.7,391.8 241.5,382.0 241.5,378.0 245.0,371.8 248.6,368.2 245.9,365.6 246.8,362.0 249.5,360.6 252.1,362.0 252.1,366.5 254.8,368.2 252.1,372.7 250.4,378.0 248.6,385.9 248.2,387.3 250.4,392.7 253.0,397.6 253.9,390.0 256.0,383.8 257.1,383.3 257.4,378.0 261.9,375.3 266.3,373.5 269.8,372.7 273.4,374.4 277.8,377.1 281.3,381.5 282.2,382.0 280.4,383.8 275.1,386.5 268.9,390.0 265.4,385.6 262.7,383.8 261.9,388.2 263.6,394.4 266.3,401.5 267.2,410.4 267.2,419.6"/>
<polyline fill="none" stroke="#000" stroke-width="1.15" stroke-linejoin="round" stroke-linecap="round" shape-rendering="geometricPrecision" points="219.4,419.6 219.9,411.2 220.6,399.7 221.2,389.1 226.5,383.8 229.1,385.6 231.8,392.7 236.2,394.8 239.7,391.8 241.5,382.0 241.5,378.0 245.0,371.8 248.6,368.2 245.9,365.6 246.8,362.0 249.5,360.6 252.1,362.0 252.1,366.5 254.8,368.2 252.1,372.7 250.4,378.0 248.6,385.9 248.2,387.3 250.4,392.7 253.0,397.6 253.9,390.0 256.0,383.8 257.1,383.3 257.4,378.0 261.9,375.3 266.3,373.5 269.8,372.7 273.4,374.4 277.8,377.1 281.3,381.5 282.2,382.0 280.4,383.8 275.1,386.5 268.9,390.0 265.4,385.6 262.7,383.8 261.9,388.2 263.6,394.4 266.3,401.5 267.2,410.4 267.2,419.6"/>
<polygon fill="#80ff00" stroke="#000" stroke-width="1.15" stroke-linejoin="round" shape-rendering="geometricPrecision" points="145.0,362.0 146.3,359.4 147.7,362.0 147.7,367.3 146.3,369.5 144.9,367.0"/>
<polygon fill="#00ffff"  points="226.5,364.3 236.2,364.3 236.2,366.8 226.5,366.8"/>
<polygon fill="#0055ff"  points="229.1,364.9 235.3,364.9 235.3,366.3 229.1,366.3"/>
<polygon fill="#00ffff"  points="225.6,369.6 236.2,369.6 237.1,373.0 226.5,373.0"/>
<polygon fill="#0055ff"  points="227.3,370.4 235.8,370.4 235.8,372.5 227.7,372.5"/>
<polygon fill="#000"  points="247.7,348.1 248.9,348.1 248.9,349.6 247.7,349.6"/>
<polygon fill="#000"  points="262.9,364.5 264.5,364.5 264.5,365.9 262.9,365.9"/>
<rect x="290" y="277" width="160" height="108.5" fill="#80ff00"/>
<polygon fill="#00ff80"  points="332.5,386.8 331.6,379.7 323.6,376.2 322.4,368.2 324.5,364.7 328.1,367.3 333.4,370.9 336.9,369.1 337.4,363.8 336.0,357.6 324.5,359.0 317.4,358.5 316.9,347.9 316.5,336.4 321.9,329.3 328.1,322.2 334.2,317.8 335.7,311.6 333.4,305.4 338.1,298.3 336.9,293.9 344.0,287.7 345.8,282.7 341.3,275.3 335.1,269.1 369.6,269.1 370.5,277.1 373.2,280.6 377.6,281.5 382.0,279.7 386.5,282.4 388.2,287.7 386.5,296.5 383.8,305.4 381.2,315.1 373.2,320.4 367.9,326.6 364.3,335.5 360.8,344.3 358.1,353.2 355.8,362.0 351.1,355.8 348.4,362.0 349.3,376.2 353.7,383.3 354.6,386.8"/>
<polyline fill="none" stroke="#000" stroke-width="1.15" stroke-linejoin="round" stroke-linecap="round" shape-rendering="geometricPrecision" points="332.5,386.8 331.6,379.7 323.6,376.2 322.4,368.2 324.5,364.7 328.1,367.3 333.4,370.9 336.9,369.1 337.4,363.8 336.0,357.6 324.5,359.0 317.4,358.5 316.9,347.9 316.5,336.4 321.9,329.3 328.1,322.2 334.2,317.8 335.7,311.6 333.4,305.4 338.1,298.3 336.9,293.9 344.0,287.7 345.8,282.7 341.3,275.3 335.1,269.1"/>
<polyline fill="none" stroke="#000" stroke-width="1.15" stroke-linejoin="round" stroke-linecap="round" shape-rendering="geometricPrecision" points="369.6,269.1 370.5,277.1 373.2,280.6 377.6,281.5 382.0,279.7 386.5,282.4 388.2,287.7 386.5,296.5 383.8,305.4 381.2,315.1 373.2,320.4 367.9,326.6 364.3,335.5 360.8,344.3 358.1,353.2 355.8,362.0 351.1,355.8 348.4,362.0 349.3,376.2 353.7,383.3 354.6,386.8"/>
<polygon fill="#00ff80"  points="336.4,269.1 369.3,269.1 369.3,278.0 343.1,278.0"/>
<polygon fill="#00ffff"  points="345.8,291.6 353.7,287.7 366.1,286.3 376.7,287.7 369.6,292.1 357.3,293.4 348.4,293.4"/>
<polygon fill="#0055ff"  points="349.3,291.6 355.5,289.1 366.1,288.1 370.5,288.6 366.1,291.6 355.5,292.7"/>
<polygon fill="#00ff80"  points="289.1,323.1 295.3,326.6 299.7,331.9 295.3,335.8 290.0,340.8 289.1,341.2"/>
<polyline fill="none" stroke="#000" stroke-width="1.15" stroke-linejoin="round" stroke-linecap="round" shape-rendering="geometricPrecision" points="289.1,323.1 295.3,326.6 299.7,331.9 295.3,335.8 290.0,340.8 289.1,341.2"/>
<polygon fill="#00ff80" stroke="#000" stroke-width="1.15" stroke-linejoin="round" shape-rendering="geometricPrecision" points="393.5,281.5 396.2,279.7 399.7,281.5 396.7,283.8"/>
<polygon fill="#00ff80"  points="451.4,277.1 445.8,276.2 439.6,281.0 445.8,284.5 451.4,283.3"/>
<polyline fill="none" stroke="#000" stroke-width="1.15" stroke-linejoin="round" stroke-linecap="round" shape-rendering="geometricPrecision" points="451.4,277.1 445.8,276.2 439.6,281.0 445.8,284.5 451.4,283.3"/>
<polygon fill="#00ff80"  points="451.1,346.1 442.2,346.1 436.9,344.3 431.6,342.6 421.9,347.0 419.2,345.2 420.1,341.7 410.4,339.9 413.9,338.1 415.7,332.8 411.2,331.1 403.3,335.8 402.4,342.6 399.7,347.0 400.6,350.5 406.8,354.1 406.8,363.8 405.0,366.5 401.5,361.2 400.6,366.5 401.5,376.2 403.3,386.8 451.4,386.8"/>
<polyline fill="none" stroke="#000" stroke-width="1.15" stroke-linejoin="round" stroke-linecap="round" shape-rendering="geometricPrecision" points="451.1,346.1 442.2,346.1 436.9,344.3 431.6,342.6 421.9,347.0 419.2,345.2 420.1,341.7 410.4,339.9 413.9,338.1 415.7,332.8 411.2,331.1 403.3,335.8 402.4,342.6 399.7,347.0 400.6,350.5 406.8,354.1 406.8,363.8 405.0,366.5 401.5,361.2 400.6,366.5 401.5,376.2 403.3,386.8"/>
<polygon fill="#80ff00"  points="414.8,386.8 414.8,374.4 419.2,366.5 426.3,365.2 432.5,366.5 431.6,371.8 428.9,377.1 431.6,382.4 434.2,386.8"/>
<polyline fill="none" stroke="#000" stroke-width="1.15" stroke-linejoin="round" stroke-linecap="round" shape-rendering="geometricPrecision" points="414.8,386.8 414.8,374.4 419.2,366.5 426.3,365.2 432.5,366.5 431.6,371.8 428.9,377.1 431.6,382.4 434.2,386.8"/>
<polygon fill="#80ff00"  points="444.9,386.8 447.5,381.2 451.4,379.4 451.4,386.8"/>
<polyline fill="none" stroke="#000" stroke-width="1.15" stroke-linejoin="round" stroke-linecap="round" shape-rendering="geometricPrecision" points="444.9,386.8 447.5,381.2 451.4,379.4"/>
<polygon fill="#00ffff"  points="433.4,347.9 440.4,346.1 451.1,346.5 451.1,356.7 444.0,354.1 436.9,350.5"/>
<polygon fill="#0055ff"  points="441.9,350.0 446.6,349.3 447.2,351.8 442.2,352.3"/>
<polygon fill="#00ffff"  points="429.8,345.2 433.4,344.7 433.7,346.8 430.7,347.2"/>
<polyline fill="none" stroke="#000" stroke-width="1.15" stroke-linejoin="round" stroke-linecap="round" shape-rendering="geometricPrecision" points="436.0,355.3 438.7,355.3 437.4,356.4"/>
<polygon fill="#00ff80" stroke="#000" stroke-width="1.15" stroke-linejoin="round" shape-rendering="geometricPrecision" points="313.0,365.6 314.8,361.7 316.9,365.6 315.1,369.5"/>
<polygon fill="#00ff80" stroke="#000" stroke-width="1.15" stroke-linejoin="round" shape-rendering="geometricPrecision" points="368.4,373.5 371.1,368.8 374.6,374.4 373.2,378.3 369.6,378.3"/>
<polygon fill="#00ff80"  points="289.1,372.3 292.7,376.2 293.5,386.8"/>
<polyline fill="none" stroke="#000" stroke-width="1.15" stroke-linejoin="round" stroke-linecap="round" shape-rendering="geometricPrecision" points="289.1,372.3 292.7,376.2 293.5,386.8"/>
<polygon fill="#00ff80"  points="289.1,372.3 292.7,376.2 293.5,386.8 289.1,386.8"/>
<polygon fill="#00ff80"  points="379.4,386.8 386.5,376.2 391.8,372.3 394.4,378.0 395.8,386.8"/>
<polyline fill="none" stroke="#000" stroke-width="1.15" stroke-linejoin="round" stroke-linecap="round" shape-rendering="geometricPrecision" points="379.4,386.8 386.5,376.2 391.8,372.3 394.4,378.0 395.8,386.8"/>
<polygon fill="#000"  points="303.8,376.5 305.0,376.5 305.0,378.0 303.8,378.0"/>
<polygon fill="#000"  points="425.9,277.1 427.3,277.8 426.3,279.2"/>
<polygon fill="#000"  points="359.4,379.7 360.8,378.8 360.8,382.4 359.6,381.9"/>
<polygon fill="#00ff80"  points="450.0,277.1 611.4,277.1 611.4,287.7 450.0,287.7"/>
<polygon fill="#00ffff"  points="491.6,274.4 491.6,275.0 501.3,278.8 510.2,284.5 513.7,286.3 529.6,285.6 542.0,285.0 556.2,283.8 573.9,283.3 591.6,282.7 602.2,281.5 611.4,280.3 611.4,274.4"/>
<polygon fill="#0055ff"  points="496.0,274.4 504.9,278.5 511.9,283.3 515.5,284.5 529.6,283.8 542.0,283.3 556.2,282.0 573.9,281.5 591.6,281.0 602.2,279.7 611.4,278.5 611.4,274.4"/>
<polygon fill="#0000aa"  points="501.3,274.4 508.4,278.0 514.6,282.0 520.8,282.7 542.0,281.0 556.2,280.3 573.9,279.7 591.6,278.8 602.2,277.4 611.4,276.7 611.4,274.4"/>
<polygon fill="#3200aa"  points="506.6,274.4 513.7,278.8 520.8,280.6 529.6,279.7 542.0,278.0 549.1,275.3 549.1,274.4"/>
<polygon fill="#3200aa"  points="563.3,274.4 573.9,278.0 588.1,277.4 602.2,275.3 611.4,274.4"/>
<polygon fill="#80ff00"  points="473.9,269.1 473.0,275.3 467.7,279.7 464.5,284.2 466.8,286.8 475.7,288.6 481.5,296.5 476.5,302.7 469.5,308.1 462.4,312.5 458.8,317.8 458.5,323.1 460.6,330.2 463.3,340.8 462.4,344.3 457.1,346.5 449.1,346.5 449.1,269.1"/>
<polyline fill="none" stroke="#000" stroke-width="1.15" stroke-linejoin="round" stroke-linecap="round" shape-rendering="geometricPrecision" points="473.9,269.1 473.0,275.3 467.7,279.7 464.5,284.2 466.8,286.8 475.7,288.6 481.5,296.5 476.5,302.7 469.5,308.1 462.4,312.5 458.8,317.8 458.5,323.1 460.6,330.2 463.3,340.8 462.4,344.3 457.1,346.5 449.1,346.5"/>
<polygon fill="#00ffff"  points="471.2,278.8 473.9,278.0 475.1,281.5 472.7,283.8"/>
<polygon fill="#00ff80"  points="449.1,277.1 451.4,278.0 451.8,280.3 449.1,281.0"/>
<polyline fill="none" stroke="#000" stroke-width="1.15" stroke-linejoin="round" stroke-linecap="round" shape-rendering="geometricPrecision" points="449.1,277.1 451.4,278.0 451.8,280.3 449.1,281.0"/>
<polygon fill="#80ff00" stroke="#000" stroke-width="1.15" stroke-linejoin="round" shape-rendering="geometricPrecision" points="494.2,281.5 499.6,282.0 503.1,284.2 504.0,289.5 506.6,291.2 504.0,296.2 500.4,293.9 492.5,292.7 491.6,290.4 496.9,286.8"/>
<polygon fill="#80ff00" stroke="#000" stroke-width="1.15" stroke-linejoin="round" shape-rendering="geometricPrecision" points="504.0,298.3 507.5,300.1 509.3,304.5 513.7,308.1 519.9,309.3 524.3,312.5 529.6,314.2 534.1,317.8 536.7,323.1 537.6,330.2 536.7,335.5 535.0,339.9 535.8,349.6 536.4,360.3 532.3,362.9 528.8,367.0 524.3,363.8 518.1,358.5 513.7,353.2 511.9,346.1 511.1,337.3 508.4,328.4 505.8,317.8 505.2,308.1 503.1,306.3 497.8,308.9 492.5,311.1 490.4,308.1 491.6,303.6 495.1,301.5 500.4,300.1"/>
<polygon fill="#80ff00"  points="611.4,285.0 602.2,287.7 584.5,288.6 581.9,296.5 589.8,298.3 596.9,299.2 599.6,301.9 591.6,304.5 591.9,314.2 591.6,324.0 581.0,325.8 573.9,327.5 568.6,331.1 565.0,338.1 567.7,344.3 569.5,349.6 566.8,355.0 561.5,358.5 558.8,362.0 556.2,359.9 552.7,361.2 556.2,366.5 558.0,368.2 549.1,368.2 545.6,363.8 542.0,362.9 539.4,365.6 546.5,370.0 549.5,371.8 546.5,376.2 545.9,386.8 611.4,386.8"/>
<polyline fill="none" stroke="#000" stroke-width="1.15" stroke-linejoin="round" stroke-linecap="round" shape-rendering="geometricPrecision" points="611.4,285.0 602.2,287.7 584.5,288.6 581.9,296.5 589.8,298.3 596.9,299.2 599.6,301.9 591.6,304.5 591.9,314.2 591.6,324.0 581.0,325.8 573.9,327.5 568.6,331.1 565.0,338.1 567.7,344.3 569.5,349.6 566.8,355.0 561.5,358.5 558.8,362.0 556.2,359.9 552.7,361.2 556.2,366.5 558.0,368.2 549.1,368.2 545.6,363.8 542.0,362.9 539.4,365.6 546.5,370.0 549.5,371.8 546.5,376.2 545.9,386.8"/>
<polygon fill="#00ff80"  points="564.7,386.8 564.2,376.2 567.7,370.9 572.1,365.6 574.8,361.7 577.8,363.8 576.5,368.2 572.1,372.7 571.2,376.2 572.5,386.8"/>
<polyline fill="none" stroke="#000" stroke-width="1.15" stroke-linejoin="round" stroke-linecap="round" shape-rendering="geometricPrecision" points="564.7,386.8 564.2,376.2 567.7,370.9 572.1,365.6 574.8,361.7 577.8,363.8 576.5,368.2 572.1,372.7 571.2,376.2 572.5,386.8"/>
<polygon fill="#00ff80"  points="579.2,386.8 580.1,376.2 584.5,371.8 591.6,367.3 596.0,362.9 597.8,368.2 601.3,369.5 602.6,366.5 601.9,360.3 603.1,355.0 600.4,352.3 604.0,349.6 611.4,347.2 611.4,386.8"/>
<polyline fill="none" stroke="#000" stroke-width="1.15" stroke-linejoin="round" stroke-linecap="round" shape-rendering="geometricPrecision" points="579.2,386.8 580.1,376.2 584.5,371.8 591.6,367.3 596.0,362.9 597.8,368.2 601.3,369.5 602.6,366.5 601.9,360.3 603.1,355.0 600.4,352.3 604.0,349.6 611.4,347.2"/>
<polygon fill="#80ff00"  points="611.4,366.5 605.8,370.0 603.1,376.2 605.8,381.2 611.4,381.9"/>
<polyline fill="none" stroke="#000" stroke-width="1.15" stroke-linejoin="round" stroke-linecap="round" shape-rendering="geometricPrecision" points="611.4,366.5 605.8,370.0 603.1,376.2 605.8,381.2 611.4,381.9"/>
<polygon fill="#80ff00" stroke="#000" stroke-width="1.15" stroke-linejoin="round" shape-rendering="geometricPrecision" points="593.0,374.4 597.8,374.4 595.5,377.3"/>
<polygon fill="#80ff00" stroke="#000" stroke-width="1.15" stroke-linejoin="round" shape-rendering="geometricPrecision" points="588.9,381.2 590.7,378.8 591.6,381.5"/>
<polyline fill="none" stroke="#000" stroke-width="1.15" stroke-linejoin="round" stroke-linecap="round" shape-rendering="geometricPrecision" points="580.1,355.8 580.6,359.4"/>
<polygon fill="#00ffff"  points="604.0,351.8 611.4,350.5 611.4,354.6 606.6,354.1"/>
<polygon fill="#0055ff"  points="606.6,352.1 611.4,351.8 611.4,353.2 607.5,353.2"/>
<polygon fill="#80ff00" stroke="#000" stroke-width="1.15" stroke-linejoin="round" shape-rendering="geometricPrecision" points="485.4,371.8 488.1,367.7 492.5,372.7 489.8,377.1 487.2,376.2"/>
<polygon fill="#80ff00" stroke="#000" stroke-width="1.15" stroke-linejoin="round" shape-rendering="geometricPrecision" points="462.0,372.3 465.6,374.4 462.4,376.5"/>
<polygon fill="#80ff00" stroke="#000" stroke-width="1.15" stroke-linejoin="round" shape-rendering="geometricPrecision" points="511.1,374.4 512.8,367.3 518.1,367.0 519.0,369.1 516.4,374.4 513.7,378.8"/>
<polygon fill="#00ffff"  points="564.2,303.6 573.9,300.4 589.8,299.2 591.6,301.9 581.0,305.4 570.4,308.1 565.0,306.3"/>
<polygon fill="#00ffff"  points="449.1,350.0 455.3,352.3 458.8,355.0 453.5,356.7 449.1,357.1"/>
<polygon fill="#00ffff"  points="534.6,367.3 542.0,366.5 542.4,369.5 535.8,370.2"/>
<polyline fill="none" stroke="#000" stroke-width="1.15" stroke-linejoin="round" stroke-linecap="round" shape-rendering="geometricPrecision" points="485.4,272.1 489.8,272.5"/>
<polyline fill="none" stroke="#000" stroke-width="1.15" stroke-linejoin="round" stroke-linecap="round" shape-rendering="geometricPrecision" points="457.1,352.5 459.7,352.5"/>
<polygon fill="#00ff80"  points="609.1,277.1 768.4,277.1 768.4,291.2 609.1,291.2"/>
<polygon fill="#00ffff"  points="609.1,275.3 609.1,282.0 627.7,281.5 645.4,281.0 654.2,282.0 657.8,285.9 661.3,289.8 671.9,288.6 684.3,286.8 698.5,284.2 709.1,281.5 719.7,279.7 733.9,277.4 751.6,274.4 768.4,270.9 768.4,269.1 609.1,269.1"/>
<polygon fill="#0055ff"  points="609.1,275.3 609.1,281.0 627.7,280.3 645.4,279.7 656.0,280.6 660.4,285.0 663.1,288.1 671.9,286.8 684.3,285.0 698.5,282.4 709.1,279.7 719.7,278.0 733.9,275.7 751.6,272.7 762.2,270.0 762.2,269.1 609.1,269.1"/>
<polygon fill="#0000aa"  points="609.1,275.3 609.1,279.2 627.7,278.5 645.4,278.0 659.6,278.8 663.1,283.3 668.4,285.9 677.3,284.2 689.6,281.5 702.0,278.8 716.2,276.2 730.4,273.9 744.5,271.4 751.6,270.0 751.6,269.1 609.1,269.1"/>
<polygon fill="#3200aa"  points="609.1,275.3 609.1,277.4 627.7,277.1 645.4,276.2 663.1,278.0 670.2,282.4 680.8,282.7 695.0,278.8 709.1,276.2 723.3,273.5 733.9,271.4 741.0,270.0 741.0,269.1 609.1,269.1"/>
<polygon fill="#7800aa"  points="633.0,276.2 645.4,274.4 663.1,274.4 673.7,279.7 684.3,280.6 698.5,276.7 712.7,273.5 719.7,270.0 719.7,269.1 633.0,269.1"/>
<polygon fill="#80ff00"  points="609.1,285.6 633.0,285.0 645.4,283.8 651.6,285.9 650.7,288.6 643.6,291.2 638.3,296.5 633.0,302.7 636.5,306.8 642.7,307.5 641.5,314.2 636.5,320.4 632.1,326.3 625.9,327.5 622.7,331.1 622.0,340.8 620.6,346.1 617.1,341.7 614.4,341.7 612.7,346.1 609.1,346.5"/>
<polyline fill="none" stroke="#000" stroke-width="1.15" stroke-linejoin="round" stroke-linecap="round" shape-rendering="geometricPrecision" points="609.1,285.6 633.0,285.0 645.4,283.8 651.6,285.9 650.7,288.6 643.6,291.2 638.3,296.5 633.0,302.7 636.5,306.8 642.7,307.5 641.5,314.2 636.5,320.4 632.1,326.3 625.9,327.5 622.7,331.1 622.0,340.8 620.6,346.1 617.1,341.7 614.4,341.7 612.7,346.1 609.1,346.5"/>
<polygon fill="#80ff00"  points="768.4,278.5 751.6,280.6 733.9,283.3 723.3,285.0 714.4,285.6 714.1,287.7 723.3,289.8 725.4,291.6 719.7,295.7 714.4,299.2 710.9,305.4 705.6,311.6 698.5,319.6 692.3,327.5 691.4,333.7 692.3,340.8 689.6,347.9 686.1,356.7 685.2,365.6 683.5,370.0 680.8,372.3 676.4,370.0 675.5,374.4 678.1,379.7 679.9,386.8 737.4,386.8 741.9,376.2 739.2,365.6 737.4,356.7 733.9,349.6 732.1,340.8 737.4,333.7 741.9,326.6 748.1,320.4 751.6,315.1 758.7,311.6 764.0,306.8 768.4,305.0"/>
<polyline fill="none" stroke="#000" stroke-width="1.15" stroke-linejoin="round" stroke-linecap="round" shape-rendering="geometricPrecision" points="768.4,278.5 751.6,280.6 733.9,283.3 723.3,285.0 714.4,285.6 714.1,287.7 723.3,289.8 725.4,291.6 719.7,295.7 714.4,299.2 710.9,305.4 705.6,311.6 698.5,319.6 692.3,327.5 691.4,333.7 692.3,340.8 689.6,347.9 686.1,356.7 685.2,365.6 683.5,370.0 680.8,372.3 676.4,370.0 675.5,374.4 678.1,379.7 679.9,386.8"/>
<polyline fill="none" stroke="#000" stroke-width="1.15" stroke-linejoin="round" stroke-linecap="round" shape-rendering="geometricPrecision" points="737.4,386.8 741.9,376.2 739.2,365.6 737.4,356.7 733.9,349.6 732.1,340.8 737.4,333.7 741.9,326.6 748.1,320.4 751.6,315.1 758.7,311.6 764.0,306.8 768.4,305.0"/>
<polygon fill="#00ff80" stroke="#000" stroke-width="1.15" stroke-linejoin="round" shape-rendering="geometricPrecision" points="711.8,358.5 713.5,357.6 714.4,363.8 715.8,368.2 712.7,368.8 711.2,363.8"/>
<polyline fill="none" stroke="#000" stroke-width="1.15" stroke-linejoin="round" stroke-linecap="round" shape-rendering="geometricPrecision" points="722.7,357.6 723.3,360.3"/>
<polyline fill="none" stroke="#000" stroke-width="1.15" stroke-linejoin="round" stroke-linecap="round" shape-rendering="geometricPrecision" points="727.7,366.8 728.9,367.9"/>
<polygon fill="#00ff80" stroke="#000" stroke-width="1.15" stroke-linejoin="round" shape-rendering="geometricPrecision" points="690.5,374.4 691.8,373.4 693.2,374.4 691.9,375.8"/>
<polygon fill="#00ff80"  points="699.4,386.8 700.3,378.0 702.0,370.9 706.5,374.4 712.7,379.7 718.0,374.4 718.8,370.5 725.9,371.8 725.0,376.2 727.7,381.5 728.9,386.8"/>
<polyline fill="none" stroke="#000" stroke-width="1.15" stroke-linejoin="round" stroke-linecap="round" shape-rendering="geometricPrecision" points="699.4,386.8 700.3,378.0 702.0,370.9 706.5,374.4 712.7,379.7 718.0,374.4 718.8,370.5 725.9,371.8 725.0,376.2 727.7,381.5 728.9,386.8"/>
<polygon fill="#80ff00"  points="744.5,386.8 746.3,374.4 751.6,364.7 756.0,366.5 762.2,362.0 768.4,357.8 768.4,386.8"/>
<polyline fill="none" stroke="#000" stroke-width="1.15" stroke-linejoin="round" stroke-linecap="round" shape-rendering="geometricPrecision" points="744.5,386.8 746.3,374.4 751.6,364.7 756.0,366.5 762.2,362.0 768.4,357.8"/>
<polygon fill="#00ff80" stroke="#000" stroke-width="1.15" stroke-linejoin="round" shape-rendering="geometricPrecision" points="763.1,370.9 768.4,368.8 768.4,374.4 764.0,373.5"/>
<polygon fill="#00ff80" stroke="#000" stroke-width="1.15" stroke-linejoin="round" shape-rendering="geometricPrecision" points="750.7,380.6 753.7,379.7 755.1,382.4 752.5,385.9 751.2,385.9"/>
<polygon fill="#80ff00"  points="609.1,365.6 612.1,366.5 613.9,370.9 612.1,376.2 609.1,378.8"/>
<polyline fill="none" stroke="#000" stroke-width="1.15" stroke-linejoin="round" stroke-linecap="round" shape-rendering="geometricPrecision" points="609.1,365.6 612.1,366.5 613.9,370.9 612.1,376.2 609.1,378.8"/>
<polyline fill="none" stroke="#000" stroke-width="1.15" stroke-linejoin="round" stroke-linecap="round" shape-rendering="geometricPrecision" points="641.3,382.4 641.5,385.9"/>
<polyline fill="none" stroke="#000" stroke-width="1.15" stroke-linejoin="round" stroke-linecap="round" shape-rendering="geometricPrecision" points="661.3,383.3 661.5,385.9"/>
<polygon fill="#00ffff"  points="704.7,292.1 709.1,290.4 718.0,290.9 716.2,293.9 709.1,295.7 705.6,294.8"/>
<polygon fill="#0055ff"  points="710.0,291.6 717.1,291.6 714.4,293.9 710.5,294.4"/>
<polygon fill="#00ffff"  points="618.8,354.4 625.9,354.4 625.9,356.0 618.8,356.0"/>
<polygon fill="#00ffff"  points="609.1,355.0 612.7,355.0 612.7,356.7 609.1,356.7"/>
<polygon fill="#000"  points="615.0,347.5 618.0,347.9 619.7,349.6 616.2,349.6"/>
<polygon fill="#00ff80" stroke="#000" stroke-width="1.15" stroke-linejoin="round" shape-rendering="geometricPrecision" points="163.6,400.7 166.3,398.4 167.5,401.5 166.8,404.7 164.0,404.2"/>
<polygon fill="#80ff00" stroke="#000" stroke-width="1.15" stroke-linejoin="round" shape-rendering="geometricPrecision" points="135.3,383.0 142.4,383.8 144.2,389.2 143.3,392.7 135.3,393.6"/>
<polygon fill="#80ff00" stroke="#000" stroke-width="1.15" stroke-linejoin="round" shape-rendering="geometricPrecision" points="135.3,397.1 143.3,396.2 144.2,401.5 141.5,405.1 135.3,403.3"/>
<polygon fill="#80ff00"  points="291.4,390.6 284.9,389.2 282.6,396.2 283.6,401.5 282.2,406.0 284.9,409.0 291.4,408.3"/>
<polyline fill="none" stroke="#000" stroke-width="1.15" stroke-linejoin="round" stroke-linecap="round" shape-rendering="geometricPrecision" points="291.4,390.6 284.9,389.2 282.6,396.2 283.6,401.5 282.2,406.0 284.9,409.0 291.4,408.3"/>
<polygon fill="#80ff00" stroke="#000" stroke-width="1.15" stroke-linejoin="round" shape-rendering="geometricPrecision" points="277.8,411.3 282.6,412.2 280.8,417.5 276.9,419.2"/>
<polygon fill="#80ff00"  points="293.5,383.8 323.6,383.8 332.5,383.8 331.6,388.3 325.4,392.7 319.2,397.1 313.0,401.5 309.5,406.0 307.7,414.8 302.4,415.7 298.8,413.1 296.2,408.6 289.1,407.7 289.1,390.9 292.7,385.6"/>
<polyline fill="none" stroke="#000" stroke-width="1.15" stroke-linejoin="round" stroke-linecap="round" shape-rendering="geometricPrecision" points="323.6,375.0 324.5,377.7 330.7,379.4 332.5,383.8 331.6,388.3 325.4,392.7 319.2,397.1 313.0,401.5 309.5,406.0 307.7,414.8 302.4,415.7 298.8,413.1 296.2,408.6 289.1,407.7"/>
<polyline fill="none" stroke="#000" stroke-width="1.15" stroke-linejoin="round" stroke-linecap="round" shape-rendering="geometricPrecision" points="289.1,390.9 292.7,385.6 293.5,378.5 292.7,375.0"/>
<polyline fill="none" stroke="#000" stroke-width="1.3" stroke-dasharray="3,2" points="309.5,387.4 309.8,398.9"/>
<polygon fill="#80ff00"  points="348.4,375.0 350.2,379.4 353.7,383.8 352.8,392.7 352.8,401.5 353.7,410.4 351.1,414.8 346.6,419.6 400.6,419.6 401.9,413.1 402.4,406.9 397.1,406.0 395.3,398.0 392.7,390.0 385.6,388.3 379.4,383.8 383.8,379.4 387.3,375.0"/>
<polyline fill="none" stroke="#000" stroke-width="1.15" stroke-linejoin="round" stroke-linecap="round" shape-rendering="geometricPrecision" points="348.4,375.0 350.2,379.4 353.7,383.8 352.8,392.7 352.8,401.5 353.7,410.4 351.1,414.8 346.6,419.6"/>
<polyline fill="none" stroke="#000" stroke-width="1.15" stroke-linejoin="round" stroke-linecap="round" shape-rendering="geometricPrecision" points="387.3,375.0 383.8,379.4 379.4,383.8 385.6,388.3 392.7,390.0 395.3,398.0 397.1,406.0 402.4,406.9 401.9,413.1 400.6,419.6"/>
<polygon fill="#00ff80"  points="368.8,374.1 370.5,378.5 374.1,378.2 375.0,374.1"/>
<polyline fill="none" stroke="#000" stroke-width="1.15" stroke-linejoin="round" stroke-linecap="round" shape-rendering="geometricPrecision" points="368.8,374.1 370.5,378.5 374.1,378.2 375.0,374.1"/>
<polygon fill="#00ff80" stroke="#000" stroke-width="1.15" stroke-linejoin="round" shape-rendering="geometricPrecision" points="359.4,392.7 360.8,391.3 361.7,395.4 360.8,399.8 359.6,398.0"/>
<polyline fill="none" stroke="#000" stroke-width="1.15" stroke-linejoin="round" stroke-linecap="round" shape-rendering="geometricPrecision" points="359.7,380.3 360.3,383.0"/>
<polygon fill="#80ff00"  points="393.5,374.1 396.2,383.0 399.7,387.0 403.3,385.6 402.4,379.4 401.5,374.1"/>
<polyline fill="none" stroke="#000" stroke-width="1.15" stroke-linejoin="round" stroke-linecap="round" shape-rendering="geometricPrecision" points="393.5,374.1 396.2,383.0 399.7,387.0 403.3,385.6 402.4,379.4 401.5,374.1"/>
<polygon fill="#80ff00"  points="414.8,374.1 416.0,382.1 422.7,385.6 428.1,390.0 430.7,394.1 434.2,393.6 435.5,389.2 431.6,383.0 428.9,378.5 428.1,374.1"/>
<polyline fill="none" stroke="#000" stroke-width="1.15" stroke-linejoin="round" stroke-linecap="round" shape-rendering="geometricPrecision" points="414.8,374.1 416.0,382.1 422.7,385.6 428.1,390.0 430.7,394.1 434.2,393.6 435.5,389.2 431.6,383.0 428.9,378.5 428.1,374.1"/>
<polygon fill="#80ff00"  points="451.4,381.2 446.6,382.1 444.0,388.3 440.4,392.7 442.2,396.2 445.8,392.7 451.4,390.9"/>
<polyline fill="none" stroke="#000" stroke-width="1.15" stroke-linejoin="round" stroke-linecap="round" shape-rendering="geometricPrecision" points="451.4,381.2 446.6,382.1 444.0,388.3 440.4,392.7 442.2,396.2 445.8,392.7 451.4,390.9"/>
<polygon fill="#80ff00" stroke="#000" stroke-width="1.15" stroke-linejoin="round" shape-rendering="geometricPrecision" points="430.7,399.8 433.4,398.4 435.1,400.7 433.7,406.0 433.0,410.4 431.6,407.7 431.2,403.3"/>
<polygon fill="#80ff00" stroke="#000" stroke-width="1.15" stroke-linejoin="round" shape-rendering="geometricPrecision" points="440.1,416.6 441.3,406.9 443.1,406.0 443.6,412.2 442.6,417.8"/>
<polygon fill="#80ff00"  points="449.1,381.2 452.7,383.0 453.9,386.5 451.8,390.0 449.1,390.6"/>
<polyline fill="none" stroke="#000" stroke-width="1.15" stroke-linejoin="round" stroke-linecap="round" shape-rendering="geometricPrecision" points="449.1,381.2 452.7,383.0 453.9,386.5 451.8,390.0 449.1,390.6"/>
<polygon fill="#80ff00" stroke="#000" stroke-width="1.15" stroke-linejoin="round" shape-rendering="geometricPrecision" points="478.3,388.3 481.0,383.8 483.6,383.0 486.3,386.5 487.2,392.7 490.7,393.6 493.4,390.0 496.0,386.5 495.1,382.1 494.2,380.7 498.7,376.2 503.1,370.0 506.6,373.6 507.5,377.1 503.1,379.8 502.2,381.2 500.4,385.6 496.9,388.3 493.4,393.6 492.5,398.9 495.1,403.3 496.9,407.7 495.1,412.2 492.5,413.1 490.7,408.6 488.1,403.3 485.4,396.2 482.7,394.1 479.2,392.7"/>
<polygon fill="#80ff00" stroke="#000" stroke-width="1.15" stroke-linejoin="round" shape-rendering="geometricPrecision" points="500.4,396.2 502.2,392.3 504.9,391.8 507.0,396.2 506.6,401.5 504.0,405.1 501.3,402.4"/>
<polygon fill="#000"  points="476.2,395.4 478.0,394.8 478.7,397.1 476.9,397.7"/>
<polyline fill="none" stroke="#000" stroke-width="1.15" stroke-linejoin="round" stroke-linecap="round" shape-rendering="geometricPrecision" points="507.5,405.4 509.3,406.5"/>
<polygon fill="#80ff00"  points="520.8,419.6 516.4,416.6 513.7,410.4 514.6,404.2 512.3,399.8 511.1,393.6 514.6,387.4 518.1,381.2 519.9,378.0 524.3,374.1 528.8,376.2 530.5,377.7 532.3,383.0 531.8,389.2 534.6,392.7 532.3,398.0 531.1,404.2 534.1,409.5 536.4,412.2 533.2,415.7 527.9,419.6"/>
<polyline fill="none" stroke="#000" stroke-width="1.15" stroke-linejoin="round" stroke-linecap="round" shape-rendering="geometricPrecision" points="520.8,419.6 516.4,416.6 513.7,410.4 514.6,404.2 512.3,399.8 511.1,393.6 514.6,387.4 518.1,381.2 519.9,378.0 524.3,374.1 528.8,376.2 530.5,377.7 532.3,383.0 531.8,389.2 534.6,392.7 532.3,398.0 531.1,404.2 534.1,409.5 536.4,412.2 533.2,415.7 527.9,419.6"/>
<polygon fill="#80ff00" stroke="#000" stroke-width="1.15" stroke-linejoin="round" shape-rendering="geometricPrecision" points="537.6,387.0 539.9,384.7 542.0,387.4 539.9,389.2"/>
<polygon fill="#80ff00"  points="546.5,375.0 545.6,383.0 547.0,388.3 543.8,391.8 544.7,394.5 549.1,392.7 554.4,388.3 558.8,383.8 560.6,385.6 558.0,389.2 556.2,394.5 556.2,403.3 557.1,412.2 558.3,419.6 591.6,419.6 589.8,413.1 588.1,406.9 587.7,398.0 588.1,390.9 586.3,384.7 583.6,383.8 581.9,387.4 581.3,396.2 580.1,401.5 578.3,398.0 577.8,391.8 581.0,387.4 580.6,380.3 580.1,375.0"/>
<polyline fill="none" stroke="#000" stroke-width="1.15" stroke-linejoin="round" stroke-linecap="round" shape-rendering="geometricPrecision" points="546.5,375.0 545.6,383.0 547.0,388.3 543.8,391.8 544.7,394.5 549.1,392.7 554.4,388.3 558.8,383.8 560.6,385.6 558.0,389.2 556.2,394.5 556.2,403.3 557.1,412.2 558.3,419.6"/>
<polyline fill="none" stroke="#000" stroke-width="1.15" stroke-linejoin="round" stroke-linecap="round" shape-rendering="geometricPrecision" points="580.1,375.0 580.6,380.3 581.0,387.4 577.8,391.8 578.3,398.0 580.1,401.5 581.3,396.2 581.9,387.4 583.6,383.8 586.3,384.7 588.1,390.9 587.7,398.0 588.1,406.9 589.8,413.1 591.6,419.6"/>
<polygon fill="#00ff80"  points="563.3,375.0 564.2,382.1 565.9,390.0 565.0,398.9 564.2,404.2 566.8,401.5 569.5,397.1 572.1,390.9 572.5,382.1 571.8,375.0"/>
<polyline fill="none" stroke="#000" stroke-width="1.15" stroke-linejoin="round" stroke-linecap="round" shape-rendering="geometricPrecision" points="563.3,375.0 564.2,382.1 565.9,390.0 565.0,398.9 564.2,404.2 566.8,401.5 569.5,397.1 572.1,390.9 572.5,382.1 571.8,375.0"/>
<polygon fill="#00ff80" stroke="#000" stroke-width="1.15" stroke-linejoin="round" shape-rendering="geometricPrecision" points="548.2,399.8 550.0,397.1 551.8,400.7 549.5,404.2"/>
<polygon fill="#80ff00" stroke="#000" stroke-width="1.15" stroke-linejoin="round" shape-rendering="geometricPrecision" points="598.7,388.3 600.4,385.6 603.1,385.6 604.9,390.0 602.6,394.5 600.4,398.0 599.0,392.7"/>
<polygon fill="#80ff00"  points="611.4,395.9 607.5,399.8 607.2,406.9 604.9,412.2 600.4,414.8 598.7,419.6 611.4,419.6"/>
<polyline fill="none" stroke="#000" stroke-width="1.15" stroke-linejoin="round" stroke-linecap="round" shape-rendering="geometricPrecision" points="611.4,395.9 607.5,399.8 607.2,406.9 604.9,412.2 600.4,414.8 598.7,419.6"/>
<polygon fill="#80ff00" stroke="#000" stroke-width="1.15" stroke-linejoin="round" shape-rendering="geometricPrecision" points="588.9,380.7 590.7,378.5 591.6,381.2"/>
<polygon fill="#80ff00"  points="609.1,392.7 613.5,387.4 617.1,383.8 620.6,378.9 623.3,383.0 626.8,386.5 627.7,392.7 629.1,398.0 625.9,402.4 623.3,406.0 622.7,412.2 622.0,417.5 617.1,419.6 609.1,418.4"/>
<polyline fill="none" stroke="#000" stroke-width="1.15" stroke-linejoin="round" stroke-linecap="round" shape-rendering="geometricPrecision" points="609.1,392.7 613.5,387.4 617.1,383.8 620.6,378.9 623.3,383.0 626.8,386.5 627.7,392.7 629.1,398.0 625.9,402.4 623.3,406.0 622.7,412.2 622.0,417.5 617.1,419.6 609.1,418.4"/>
<polygon fill="#00ff80" stroke="#000" stroke-width="1.15" stroke-linejoin="round" shape-rendering="geometricPrecision" points="620.3,390.0 621.5,389.2 622.0,392.7 620.6,394.5"/>
<polygon fill="#80ff00" stroke="#000" stroke-width="1.15" stroke-linejoin="round" shape-rendering="geometricPrecision" points="628.6,416.6 630.9,413.1 633.4,416.6 631.2,419.6"/>
<polygon fill="#80ff00" stroke="#000" stroke-width="1.15" stroke-linejoin="round" shape-rendering="geometricPrecision" points="651.6,408.3 652.5,406.0 652.8,398.0 649.8,389.2 647.5,380.3 648.1,376.2 650.4,366.5 654.2,363.0 657.4,362.1 657.8,366.5 659.6,370.9 656.9,376.2 656.4,382.1 657.8,389.2 661.3,383.8 664.9,388.3 669.3,393.6 671.9,399.8 674.6,406.0 676.4,411.3 675.5,416.6 673.7,419.6 659.6,417.8 654.2,419.6 645.4,418.4 639.2,416.6 637.4,410.4 636.5,403.3 638.0,396.2 639.2,389.2 640.4,383.8 641.9,382.1 643.6,384.7 645.0,391.8 646.3,398.9 648.9,404.2"/>
<polygon fill="#00ff80" stroke="#000" stroke-width="1.15" stroke-linejoin="round" shape-rendering="geometricPrecision" points="671.1,386.0 672.3,385.3 673.0,387.4 671.6,388.3"/>
<polygon fill="#80ff00"  points="676.4,374.1 678.1,382.1 678.7,392.7 679.9,398.9 682.6,401.2 686.1,397.1 689.6,391.8 695.0,388.8 700.3,387.4 700.6,382.1 699.9,374.1"/>
<polyline fill="none" stroke="#000" stroke-width="1.15" stroke-linejoin="round" stroke-linecap="round" shape-rendering="geometricPrecision" points="676.4,374.1 678.1,382.1 678.7,392.7 679.9,398.9 682.6,401.2 686.1,397.1 689.6,391.8 695.0,388.8 700.3,387.4 700.6,382.1 699.9,374.1"/>
<polygon fill="#80ff00" stroke="#000" stroke-width="1.15" stroke-linejoin="round" shape-rendering="geometricPrecision" points="695.8,419.6 696.4,410.4 695.8,406.0 698.5,403.3 701.2,407.7 703.8,404.2 705.6,402.4 702.0,397.1 701.7,390.9 706.5,392.7 710.9,389.2 713.0,390.0 711.8,394.5 709.1,398.9 712.7,401.5 718.0,406.0 719.7,410.4 720.1,419.6"/>
<polygon fill="#80ff00"  points="706.5,374.1 710.9,378.9 716.2,374.1"/>
<polyline fill="none" stroke="#000" stroke-width="1.15" stroke-linejoin="round" stroke-linecap="round" shape-rendering="geometricPrecision" points="706.5,374.1 710.9,378.9 716.2,374.1"/>
<polygon fill="#80ff00"  points="723.3,374.1 725.9,380.3 726.8,385.6 728.2,392.7 728.9,401.5 730.4,408.6 733.0,413.1 735.7,408.6 736.5,401.5 738.8,399.8 740.6,406.0 742.7,413.1 746.3,416.6 751.6,417.5 758.7,417.1 768.4,417.5 768.4,374.1"/>
<polyline fill="none" stroke="#000" stroke-width="1.15" stroke-linejoin="round" stroke-linecap="round" shape-rendering="geometricPrecision" points="723.3,374.1 725.9,380.3 726.8,385.6 728.2,392.7 728.9,401.5 730.4,408.6 733.0,413.1 735.7,408.6 736.5,401.5 738.8,399.8 740.6,406.0 742.7,413.1 746.3,416.6 751.6,417.5 758.7,417.1 768.4,417.5"/>
<polygon fill="#00ff80" stroke="#000" stroke-width="1.15" stroke-linejoin="round" shape-rendering="geometricPrecision" points="736.5,383.8 739.2,378.5 741.9,375.0 744.5,375.0 744.9,382.1 751.6,384.7 753.4,380.3 755.5,382.1 755.1,387.4 758.3,390.6 754.2,392.7 752.5,398.9 754.2,405.1 753.4,410.4 750.7,407.7 748.1,401.5 745.4,394.5 742.7,390.0 738.3,391.3 737.1,387.4"/>
<polygon fill="#80ff00" stroke="#000" stroke-width="1.15" stroke-linejoin="round" shape-rendering="geometricPrecision" points="721.2,396.2 722.4,390.0 724.7,391.8 724.2,398.9 721.9,401.2"/>
<polygon fill="#00ff80" stroke="#000" stroke-width="1.15" stroke-linejoin="round" shape-rendering="geometricPrecision" points="763.1,398.9 768.4,397.7 768.4,408.6 764.9,405.1"/>
<polygon fill="#3200aa"  points="502.2,275.7 512.1,272.6 534.2,270.4 556.4,267.3 578.5,264.6 600.6,261.9 622.7,259.3 644.9,257.5 667.0,256.2 670.3,259.3 678.1,262.8 690.0,264.2 690.0,280.5 678.1,282.7 667.0,282.3 660.4,279.2 644.9,278.3 622.7,279.9 600.6,281.0 578.5,282.3 556.4,282.7 534.2,283.2 518.8,282.5 509.9,279.4"/>
<polygon fill="#0000aa"  points="551.9,274.8 578.5,272.6 600.6,271.5 613.9,265.9 631.6,267.0 658.1,260.4 668.1,258.4 666.5,262.6 644.9,268.1 631.6,273.7 613.9,278.1 605.0,280.1 578.5,281.2 556.4,280.3 534.2,281.4 523.2,281.4 534.2,278.1"/>
<polygon fill="#7800aa"  points="503.3,275.2 516.5,272.3 534.2,271.2 551.9,269.0 565.2,267.5 563.0,270.6 547.5,273.5 529.8,275.7 512.1,277.9"/>
<polygon fill="#7800aa"  points="576.3,266.8 594.0,263.9 600.6,265.7 596.2,269.0 578.5,270.1"/>
<polygon fill="#7800aa"  points="580.7,277.9 596.2,275.7 605.0,275.0 600.6,278.5 585.1,280.1"/>
<polygon fill="#7800aa"  points="616.1,263.5 627.2,261.3 631.6,263.5 622.7,266.2"/>
<polygon fill="#7800aa"  points="620.5,277.9 631.6,275.7 636.0,277.2 627.2,280.1"/>
<polygon fill="#7800aa"  points="633.8,274.6 649.3,270.1 667.0,267.9 690.0,267.9 690.0,279.6 678.1,281.0 667.0,279.9 653.7,277.7 644.9,277.7 636.0,276.8"/>
<polygon fill="#00ff80"  points="703.1,283.5 713.7,281.8 724.3,280.0 738.5,277.9 752.7,276.1 767.7,274.3 767.7,277.9 752.7,280.0 738.5,282.3 724.3,284.4 713.7,286.2 703.1,286.4"/>
<polygon fill="#00ffff"  points="703.1,281.6 713.7,279.8 724.3,278.1 738.5,275.9 752.7,274.2 767.7,272.4 767.7,275.2 752.7,277.0 738.5,278.8 724.3,280.9 713.7,282.7 703.1,284.8"/>
<polygon fill="#0055ff"  points="703.1,279.8 713.7,278.1 724.3,276.3 738.5,274.2 752.7,272.7 767.7,271.0 767.7,273.5 752.7,275.2 738.5,277.0 724.3,279.1 713.7,280.5 703.1,282.7"/>
<polygon fill="#0000aa"  points="703.1,277.5 713.7,275.8 720.8,274.0 727.9,273.1 742.0,271.3 756.2,269.6 767.7,268.1 767.7,271.7 752.7,273.5 738.5,274.9 724.3,277.0 713.7,278.8 703.1,280.5"/>
<polygon fill="#3200aa"  points="717.3,274.0 724.3,271.0 735.0,266.5 745.6,263.0 756.2,260.4 767.7,257.7 767.7,269.6 756.2,270.8 742.0,272.6 727.9,274.3"/>
<polygon fill="#7800aa"  points="724.3,273.6 735.0,268.3 745.6,264.8 756.2,262.1 767.7,259.5 767.7,268.7 756.2,270.1 742.0,271.9 727.9,273.6"/>
<polyline fill="none" stroke="#00ffff" stroke-width="4.2" stroke-linejoin="round" transform="translate(0,0.6)" points="134.4,421.4 142.4,422.4 147.7,418.4 151.2,416.1 156.5,417.5 165.4,419.2 174.2,418.9 181.3,417.5 184.9,413.1 191.1,412.2 195.5,416.6 199.9,424.6 202.6,428.1 207.9,423.7 213.2,420.7 222.0,420.1 236.2,420.1 253.9,420.3 271.6,420.7 285.8,420.3 290.0,418.9 297.1,417.1 307.7,417.8 321.9,418.9 330.7,418.4 335.1,416.1 341.3,418.4 344.9,422.4 351.9,420.7 364.3,420.1 378.5,420.7 396.2,420.1 405.0,419.2 417.4,419.6 424.5,421.4 431.6,422.4 436.9,420.7 445.8,421.0 450.0,421.4 460.6,421.0 471.2,418.9 481.9,417.5 488.9,417.1 493.4,415.4 497.8,418.4 503.1,420.1 508.4,418.4 513.7,420.1 524.3,420.7 531.4,419.2 534.1,417.1 537.6,420.1 542.0,421.4 545.6,419.2 550.9,420.1 565.0,420.7 577.4,420.7 588.1,421.4 595.1,423.7 602.2,421.4 607.5,420.7 610.0,420.7 627.7,420.7 645.4,420.7 663.1,420.7 673.7,420.1 678.1,418.4 682.6,418.4 687.0,421.4 698.5,421.4 716.2,421.4 733.9,421.0 744.5,420.1 756.9,420.1 769.3,420.1"/>
<polyline fill="none" stroke="#0055ff" stroke-width="2.6" stroke-linejoin="round" transform="translate(0,0.6)" points="134.4,421.4 142.4,422.4 147.7,418.4 151.2,416.1 156.5,417.5 165.4,419.2 174.2,418.9 181.3,417.5 184.9,413.1 191.1,412.2 195.5,416.6 199.9,424.6 202.6,428.1 207.9,423.7 213.2,420.7 222.0,420.1 236.2,420.1 253.9,420.3 271.6,420.7 285.8,420.3 290.0,418.9 297.1,417.1 307.7,417.8 321.9,418.9 330.7,418.4 335.1,416.1 341.3,418.4 344.9,422.4 351.9,420.7 364.3,420.1 378.5,420.7 396.2,420.1 405.0,419.2 417.4,419.6 424.5,421.4 431.6,422.4 436.9,420.7 445.8,421.0 450.0,421.4 460.6,421.0 471.2,418.9 481.9,417.5 488.9,417.1 493.4,415.4 497.8,418.4 503.1,420.1 508.4,418.4 513.7,420.1 524.3,420.7 531.4,419.2 534.1,417.1 537.6,420.1 542.0,421.4 545.6,419.2 550.9,420.1 565.0,420.7 577.4,420.7 588.1,421.4 595.1,423.7 602.2,421.4 607.5,420.7 610.0,420.7 627.7,420.7 645.4,420.7 663.1,420.7 673.7,420.1 678.1,418.4 682.6,418.4 687.0,421.4 698.5,421.4 716.2,421.4 733.9,421.0 744.5,420.1 756.9,420.1 769.3,420.1"/>
<polyline fill="none" stroke="#0000aa" stroke-width="0.9" stroke-linejoin="round" transform="translate(0,0.6)" points="134.4,421.4 142.4,422.4 147.7,418.4 151.2,416.1 156.5,417.5 165.4,419.2 174.2,418.9 181.3,417.5 184.9,413.1 191.1,412.2 195.5,416.6 199.9,424.6 202.6,428.1 207.9,423.7 213.2,420.7 222.0,420.1 236.2,420.1 253.9,420.3 271.6,420.7 285.8,420.3 290.0,418.9 297.1,417.1 307.7,417.8 321.9,418.9 330.7,418.4 335.1,416.1 341.3,418.4 344.9,422.4 351.9,420.7 364.3,420.1 378.5,420.7 396.2,420.1 405.0,419.2 417.4,419.6 424.5,421.4 431.6,422.4 436.9,420.7 445.8,421.0 450.0,421.4 460.6,421.0 471.2,418.9 481.9,417.5 488.9,417.1 493.4,415.4 497.8,418.4 503.1,420.1 508.4,418.4 513.7,420.1 524.3,420.7 531.4,419.2 534.1,417.1 537.6,420.1 542.0,421.4 545.6,419.2 550.9,420.1 565.0,420.7 577.4,420.7 588.1,421.4 595.1,423.7 602.2,421.4 607.5,420.7 610.0,420.7 627.7,420.7 645.4,420.7 663.1,420.7 673.7,420.1 678.1,418.4 682.6,418.4 687.0,421.4 698.5,421.4 716.2,421.4 733.9,421.0 744.5,420.1 756.9,420.1 769.3,420.1"/>
<polygon fill="#ffff00"  points="225.6,416.8 261.0,416.8 261.9,419.2 224.7,419.2"/>
<polygon fill="#ffaa00"  points="238.0,417.3 257.4,417.3 257.4,418.5 238.0,418.5"/>
<polygon fill="#ffaa00"  points="163.6,414.8 166.3,413.9 168.9,415.4 169.3,417.5 164.0,417.5"/>
<polygon fill="#ffff00"  points="149.5,411.8 153.0,411.8 153.0,412.9 149.5,412.9"/>
<polygon fill="#ffff00"  points="360.8,417.5 367.9,416.1 375.0,413.9 382.0,414.8 389.1,417.1 394.4,419.6 360.8,419.6"/>
<polygon fill="#ffaa00"  points="364.3,417.5 371.4,416.6 370.5,418.9 365.2,418.9"/>
<polygon fill="#ffff00"  points="517.6,417.5 521.2,417.5 521.2,419.6 517.6,419.6"/>
<polygon fill="#ffff00"  points="573.9,417.8 581.0,416.8 587.2,417.8 587.2,419.6 573.9,419.6"/>
<polygon fill="#ffaa00"  points="580.1,417.5 585.4,417.5 585.4,418.7 580.1,418.7"/>
<polygon fill="#ffff00"  points="601.3,416.1 607.5,415.0 607.9,418.4 601.9,418.5"/>
<polygon fill="#ffff00"  points="705.2,418.0 707.9,418.0 707.9,419.6 705.2,419.6"/>
<polygon fill="#7800aa" transform="translate(0,0.7)" points="134.4,421.4 142.4,422.4 147.7,418.4 151.2,416.1 156.5,417.5 165.4,419.2 174.2,418.9 181.3,417.5 184.9,413.1 191.1,412.2 195.5,416.6 199.9,424.6 202.6,428.1 207.9,423.7 213.2,420.7 222.0,420.1 236.2,420.1 253.9,420.3 271.6,420.7 285.8,420.3 290.0,418.9 297.1,417.1 307.7,417.8 321.9,418.9 330.7,418.4 335.1,416.1 341.3,418.4 344.9,422.4 351.9,420.7 364.3,420.1 378.5,420.7 396.2,420.1 405.0,419.2 417.4,419.6 424.5,421.4 431.6,422.4 436.9,420.7 445.8,421.0 450.0,421.4 460.6,421.0 471.2,418.9 481.9,417.5 488.9,417.1 493.4,415.4 497.8,418.4 503.1,420.1 508.4,418.4 513.7,420.1 524.3,420.7 531.4,419.2 534.1,417.1 537.6,420.1 542.0,421.4 545.6,419.2 550.9,420.1 565.0,420.7 577.4,420.7 588.1,421.4 595.1,423.7 602.2,421.4 607.5,420.7 610.0,420.7 627.7,420.7 645.4,420.7 663.1,420.7 673.7,420.1 678.1,418.4 682.6,418.4 687.0,421.4 698.5,421.4 716.2,421.4 733.9,421.0 744.5,420.1 756.9,420.1 769.3,420.1 770,480 130,480"/>
<polyline fill="none" stroke="#000" stroke-width="1.9" stroke-linejoin="round" shape-rendering="geometricPrecision" points="134.4,424.9 145.9,426.0 151.2,421.4 156.5,421.4 165.4,424.2 174.2,423.7 181.3,421.9 186.6,424.2 191.9,422.8 197.3,428.1 202.6,431.3 207.9,428.1 213.2,425.4 222.0,424.6 236.2,424.6 253.9,424.9 264.5,425.1 271.6,424.6 285.8,424.9 290.0,422.8 298.8,421.4 307.7,423.7 318.3,424.9 327.5,424.6"/>
<polyline fill="none" stroke="#000" stroke-width="1.9" stroke-linejoin="round" shape-rendering="geometricPrecision" points="367.9,426.3 378.5,424.6 396.2,424.9 413.9,424.9 421.0,426.7 431.6,427.2 440.4,426.3 447.5,426.0 450.0,425.4 467.7,425.4 478.3,424.9 488.9,422.8 493.4,419.2 495.1,423.7 501.3,426.3 510.2,424.9 520.8,424.6 535.0,424.6 542.0,426.7 552.7,427.2 563.3,426.0 577.4,425.4 588.1,424.9 595.1,426.3 602.2,425.4 608.4,426.3 610.0,425.4 624.2,424.9 636.5,423.7 645.4,423.1 659.6,424.2 673.7,423.7 679.9,421.4 684.3,423.1 689.6,425.4 702.0,424.9 712.7,426.0 725.0,425.4 737.4,424.9 746.3,423.1 756.9,423.7 768.4,425.4"/>
<polyline fill="none" stroke="#000" stroke-width="1.0" stroke-linejoin="round" shape-rendering="geometricPrecision" points="134.4,433.1 165.4,432.5 176.0,431.6 190.2,430.2 197.3,433.1 202.6,436.1 209.6,433.8 225.6,432.5 236.2,432.5 253.9,433.4 268.1,434.3 282.2,433.8 288.4,433.1 290.0,432.5 307.7,432.0 325.4,433.1 328.9,431.6 334.2,434.3 360.8,433.1 378.5,432.5 396.2,433.4 405.0,435.2 413.9,436.1 424.5,434.3 431.6,433.1 448.4,433.8 450.0,432.5 467.7,433.1 485.4,433.4 503.1,433.1 520.8,433.1 533.2,432.5 540.3,434.3 556.2,434.3 573.9,433.1 584.5,432.5 600.4,432.5 608.4,432.0 610.0,433.1 627.7,433.1 645.4,432.5 663.1,433.1 671.9,432.5 678.1,431.6 682.6,434.3 688.8,437.3 695.0,436.1 705.6,433.8 719.7,433.1 733.9,433.1 751.6,432.5 768.4,432.0"/>
<polyline fill="none" stroke="#000" stroke-width="1.9" stroke-linejoin="round" shape-rendering="geometricPrecision" points="134.4,445.4 165.4,444.9 176.0,443.7 183.1,444.0 190.2,445.4 197.3,443.1 207.9,443.7 222.0,443.1 236.2,443.7 253.9,444.4 268.1,444.0 282.2,444.9 288.4,443.1 290.0,443.1 307.7,443.7 321.9,444.9 334.6,444.9"/>
<polyline fill="none" stroke="#000" stroke-width="1.9" stroke-linejoin="round" shape-rendering="geometricPrecision" points="382.0,443.1 392.7,444.0 403.3,446.2 413.9,447.6 421.0,445.8 428.1,443.7 440.4,444.4 448.4,444.0 450.0,444.9 455.3,444.0 467.7,443.7 485.4,444.4 503.1,444.9 520.8,444.0 535.0,443.7 545.6,444.9 556.2,444.4 565.0,444.9 581.0,444.0 591.6,444.9 608.4,444.0 610.0,443.7 627.7,444.0 645.4,444.0 656.0,444.9 668.4,444.9 676.4,443.1 680.8,445.8 687.9,447.2 696.7,445.8 705.6,444.4 719.7,444.4 733.9,444.4 751.6,444.0 768.4,443.7"/>
<polyline fill="none" stroke="#000" stroke-width="1.0" stroke-linejoin="round" shape-rendering="geometricPrecision" points="134.4,466.7 158.3,467.0 165.4,466.2 176.0,467.0 200.8,467.0 229.1,467.4 236.2,465.6 271.6,465.6 282.2,467.0 288.4,467.0 290.0,467.0 307.7,466.7 321.9,467.0 323.6,465.6 343.1,466.2 360.8,466.7 373.2,465.6 389.1,467.0 413.9,467.0 421.0,466.2 448.4,466.7 450.0,467.0 467.7,466.7 476.5,465.6 503.1,466.2 508.4,465.3 524.3,465.6 529.6,466.7 549.1,467.0 573.9,467.0 581.0,466.2 591.6,465.3 602.2,466.2 608.4,466.7 610.0,466.7 627.7,466.7 636.5,465.6 645.4,465.3 656.0,466.7 670.2,465.6 686.1,465.6 695.0,466.2 709.1,467.4 723.3,467.0 733.9,465.6 744.5,466.2 756.9,465.6 768.4,464.9"/>
</g>
<g class="c" stroke="#000">
<rect x="159" y="469" width="1" height="4" fill="#000" stroke="none"/><rect x="159" y="157" width="1" height="4" fill="#000" stroke="none"/><rect x="183" y="463" width="2" height="10" fill="#000" stroke="none"/><rect x="183" y="157" width="2" height="10" fill="#000" stroke="none"/><rect x="210" y="469" width="1" height="4" fill="#000" stroke="none"/><rect x="210" y="157" width="1" height="4" fill="#000" stroke="none"/><rect x="234" y="463" width="2" height="10" fill="#000" stroke="none"/><rect x="234" y="157" width="2" height="10" fill="#000" stroke="none"/><rect x="261" y="469" width="1" height="4" fill="#000" stroke="none"/><rect x="261" y="157" width="1" height="4" fill="#000" stroke="none"/><rect x="285" y="463" width="2" height="10" fill="#000" stroke="none"/><rect x="285" y="157" width="2" height="10" fill="#000" stroke="none"/><rect x="312" y="469" width="1" height="4" fill="#000" stroke="none"/><rect x="312" y="157" width="1" height="4" fill="#000" stroke="none"/><rect x="336" y="463" width="2" height="10" fill="#000" stroke="none"/><rect x="336" y="157" width="2" height="10" fill="#000" stroke="none"/><rect x="363" y="469" width="1" height="4" fill="#000" stroke="none"/><rect x="363" y="157" width="1" height="4" fill="#000" stroke="none"/><rect x="387" y="463" width="2" height="10" fill="#000" stroke="none"/><rect x="387" y="157" width="2" height="10" fill="#000" stroke="none"/><rect x="414" y="469" width="1" height="4" fill="#000" stroke="none"/><rect x="414" y="157" width="1" height="4" fill="#000" stroke="none"/><rect x="438" y="463" width="2" height="10" fill="#000" stroke="none"/><rect x="438" y="157" width="2" height="10" fill="#000" stroke="none"/><rect x="465" y="469" width="1" height="4" fill="#000" stroke="none"/><rect x="465" y="157" width="1" height="4" fill="#000" stroke="none"/><rect x="489" y="463" width="2" height="10" fill="#000" stroke="none"/><rect x="489" y="157" width="2" height="10" fill="#000" stroke="none"/><rect x="516" y="469" width="1" height="4" fill="#000" stroke="none"/><rect x="516" y="157" width="1" height="4" fill="#000" stroke="none"/><rect x="540" y="463" width="2" height="10" fill="#000" stroke="none"/><rect x="540" y="157" width="2" height="10" fill="#000" stroke="none"/><rect x="567" y="469" width="1" height="4" fill="#000" stroke="none"/><rect x="567" y="157" width="1" height="4" fill="#000" stroke="none"/><rect x="591" y="463" width="2" height="10" fill="#000" stroke="none"/><rect x="591" y="157" width="2" height="10" fill="#000" stroke="none"/><rect x="618" y="469" width="1" height="4" fill="#000" stroke="none"/><rect x="618" y="157" width="1" height="4" fill="#000" stroke="none"/><rect x="642" y="463" width="2" height="10" fill="#000" stroke="none"/><rect x="642" y="157" width="2" height="10" fill="#000" stroke="none"/><rect x="669" y="469" width="1" height="4" fill="#000" stroke="none"/><rect x="669" y="157" width="1" height="4" fill="#000" stroke="none"/><rect x="693" y="463" width="2" height="10" fill="#000" stroke="none"/><rect x="693" y="157" width="2" height="10" fill="#000" stroke="none"/><rect x="720" y="469" width="1" height="4" fill="#000" stroke="none"/><rect x="720" y="157" width="1" height="4" fill="#000" stroke="none"/><rect x="744" y="463" width="2" height="10" fill="#000" stroke="none"/><rect x="744" y="157" width="2" height="10" fill="#000" stroke="none"/>
<rect x="136" y="459" width="5" height="1" fill="#000" stroke="none"/><rect x="763" y="459" width="5" height="1" fill="#000" stroke="none"/><rect x="136" y="443" width="5" height="1" fill="#000" stroke="none"/><rect x="763" y="443" width="5" height="1" fill="#000" stroke="none"/><rect x="136" y="427" width="5" height="1" fill="#000" stroke="none"/><rect x="763" y="427" width="5" height="1" fill="#000" stroke="none"/><rect x="136" y="411" width="5" height="1" fill="#000" stroke="none"/><rect x="763" y="411" width="5" height="1" fill="#000" stroke="none"/><rect x="136" y="394" width="9" height="2" fill="#000" stroke="none"/><rect x="759" y="394" width="9" height="2" fill="#000" stroke="none"/><rect x="136" y="379" width="5" height="1" fill="#000" stroke="none"/><rect x="763" y="379" width="5" height="1" fill="#000" stroke="none"/><rect x="136" y="363" width="5" height="1" fill="#000" stroke="none"/><rect x="763" y="363" width="5" height="1" fill="#000" stroke="none"/><rect x="136" y="347" width="5" height="1" fill="#000" stroke="none"/><rect x="763" y="347" width="5" height="1" fill="#000" stroke="none"/><rect x="136" y="331" width="5" height="1" fill="#000" stroke="none"/><rect x="763" y="331" width="5" height="1" fill="#000" stroke="none"/><rect x="136" y="314" width="9" height="2" fill="#000" stroke="none"/><rect x="759" y="314" width="9" height="2" fill="#000" stroke="none"/><rect x="136" y="299" width="5" height="1" fill="#000" stroke="none"/><rect x="763" y="299" width="5" height="1" fill="#000" stroke="none"/><rect x="136" y="283" width="5" height="1" fill="#000" stroke="none"/><rect x="763" y="283" width="5" height="1" fill="#000" stroke="none"/><rect x="136" y="267" width="5" height="1" fill="#000" stroke="none"/><rect x="763" y="267" width="5" height="1" fill="#000" stroke="none"/><rect x="136" y="251" width="5" height="1" fill="#000" stroke="none"/><rect x="763" y="251" width="5" height="1" fill="#000" stroke="none"/><rect x="136" y="234" width="9" height="2" fill="#000" stroke="none"/><rect x="759" y="234" width="9" height="2" fill="#000" stroke="none"/><rect x="136" y="219" width="5" height="1" fill="#000" stroke="none"/><rect x="763" y="219" width="5" height="1" fill="#000" stroke="none"/><rect x="136" y="203" width="5" height="1" fill="#000" stroke="none"/><rect x="763" y="203" width="5" height="1" fill="#000" stroke="none"/><rect x="136" y="187" width="5" height="1" fill="#000" stroke="none"/><rect x="763" y="187" width="5" height="1" fill="#000" stroke="none"/><rect x="136" y="171" width="5" height="1" fill="#000" stroke="none"/><rect x="763" y="171" width="5" height="1" fill="#000" stroke="none"/>
</g>
<g class="c" fill="#000"><rect x="135" y="156" width="2" height="318"/><rect x="767" y="156" width="2" height="318"/><rect x="135" y="156" width="634" height="2"/><rect x="135" y="472" width="634" height="2"/></g>
<g class="c">
<rect x="784" y="247.00" width="18" height="23.10" fill="#ff2020"/>
<rect x="784" y="269.60" width="18" height="23.10" fill="#ff5500"/>
<rect x="784" y="292.20" width="18" height="23.10" fill="#ffaa00"/>
<rect x="784" y="314.80" width="18" height="23.10" fill="#ffff00"/>
<rect x="784" y="337.40" width="18" height="23.10" fill="#80ff00"/>
<rect x="784" y="360.00" width="18" height="23.10" fill="#00ff80"/>
<rect x="784" y="382.60" width="18" height="23.10" fill="#00ffff"/>
<rect x="784" y="405.20" width="18" height="23.10" fill="#0055ff"/>
<rect x="784" y="427.80" width="18" height="23.10" fill="#0000aa"/>
<rect x="784" y="450.40" width="18" height="23.10" fill="#3200aa"/>
</g>
<g>
<polygon points="784,247 793.5,206 802,247" fill="#ffa0a0" stroke="#000" stroke-width="2" stroke-linejoin="miter"/>
<polygon points="784,473 793.5,514.5 802,473" fill="#7800aa" stroke="#000" stroke-width="2" stroke-linejoin="miter"/>
</g>
<g class="c">
<rect x="784" y="247" width="18" height="226" fill="none" stroke="#000" stroke-width="2"/>
<rect x="784" y="269" width="18" height="2" fill="#000"/>
<rect x="784" y="291" width="18" height="2" fill="#000"/>
<rect x="784" y="314" width="18" height="2" fill="#000"/>
<rect x="784" y="336" width="18" height="2" fill="#000"/>
<rect x="784" y="359" width="18" height="2" fill="#000"/>
<rect x="784" y="382" width="18" height="2" fill="#000"/>
<rect x="784" y="404" width="18" height="2" fill="#000"/>
<rect x="784" y="427" width="18" height="2" fill="#000"/>
<rect x="784" y="449" width="18" height="2" fill="#000"/>
</g>
<text class="t" x="336" y="113" font-size="29" text-anchor="start" textLength="232" lengthAdjust="spacingAndGlyphs" stroke="#fff" stroke-width="0.6">Saturation Ratio</text>
<text class="tb2" x="47.5" y="135.2" font-size="17" text-anchor="start" textLength="96.5" lengthAdjust="spacingAndGlyphs" >(&#215;1000 m)</text>
<text class="tb2" x="684.5" y="517.6" font-size="17.2" text-anchor="start" textLength="96.5" lengthAdjust="spacingAndGlyphs" >(&#215;1000 m)</text>
<text class="t" x="778" y="169" font-size="17" text-anchor="start" textLength="98" lengthAdjust="spacingAndGlyphs" stroke="#fff" stroke-width="0.25">t=788400 s</text>
<text class="t" x="379" y="547" font-size="22" text-anchor="start" textLength="147" lengthAdjust="spacingAndGlyphs" stroke="#fff" stroke-width="0.25">X coordinate</text>
<text class="tb2" x="304.5" y="593" font-size="19" text-anchor="start" textLength="291.5" lengthAdjust="spacingAndGlyphs" >CONTOUR INTERVAL = 2.000E&#8722;01</text>
<text class="t" font-size="23" textLength="146" lengthAdjust="spacingAndGlyphs" transform="translate(90.3,388) rotate(-90)" stroke="#fff" stroke-width="0.25">Z coordinate</text>
<text class="tb" x="340.3" y="187.2" font-size="18" text-anchor="start" textLength="38" lengthAdjust="spacingAndGlyphs" >0.80</text>
<text class="tb" x="328.5" y="430.3" font-size="17" text-anchor="start" textLength="37.5" lengthAdjust="spacingAndGlyphs" >0.80</text>
<text class="tb" x="339.5" y="449.8" font-size="17" text-anchor="start" textLength="37.5" lengthAdjust="spacingAndGlyphs" >0.40</text>
<text class="tb" x="184.14000000000001" y="494.6" font-size="17.3" text-anchor="middle" >4</text>
<text class="tb" x="235.18" y="494.6" font-size="17.3" text-anchor="middle" >8</text>
<text class="tb" x="286.22" y="494.6" font-size="17.3" text-anchor="middle" textLength="19.6" lengthAdjust="spacingAndGlyphs" >12</text>
<text class="tb" x="337.26000000000005" y="494.6" font-size="17.3" text-anchor="middle" textLength="19.6" lengthAdjust="spacingAndGlyphs" >16</text>
<text class="tb" x="388.3" y="494.6" font-size="17.3" text-anchor="middle" textLength="19.6" lengthAdjust="spacingAndGlyphs" >20</text>
<text class="tb" x="439.34000000000003" y="494.6" font-size="17.3" text-anchor="middle" textLength="19.6" lengthAdjust="spacingAndGlyphs" >24</text>
<text class="tb" x="490.38" y="494.6" font-size="17.3" text-anchor="middle" textLength="19.6" lengthAdjust="spacingAndGlyphs" >28</text>
<text class="tb" x="541.42" y="494.6" font-size="17.3" text-anchor="middle" textLength="19.6" lengthAdjust="spacingAndGlyphs" >32</text>
<text class="tb" x="592.46" y="494.6" font-size="17.3" text-anchor="middle" textLength="19.6" lengthAdjust="spacingAndGlyphs" >36</text>
<text class="tb" x="643.5" y="494.6" font-size="17.3" text-anchor="middle" textLength="19.6" lengthAdjust="spacingAndGlyphs" >40</text>
<text class="tb" x="694.54" y="494.6" font-size="17.3" text-anchor="middle" textLength="19.6" lengthAdjust="spacingAndGlyphs" >44</text>
<text class="tb" x="745.5799999999999" y="494.6" font-size="17.3" text-anchor="middle" textLength="19.6" lengthAdjust="spacingAndGlyphs" >48</text>
<text class="tb" x="127" y="400.6" font-size="18" text-anchor="end" >5</text>
<text class="tb" x="127" y="320.6" font-size="18" text-anchor="end" textLength="21.2" lengthAdjust="spacingAndGlyphs" >10</text>
<text class="tb" x="127" y="240.6" font-size="18" text-anchor="end" textLength="21.2" lengthAdjust="spacingAndGlyphs" >15</text>
<text class="tb" x="812" y="275.5" font-size="17" text-anchor="start" >1.08</text>
<text class="tb" x="812" y="320.7" font-size="17" text-anchor="start" >1.04</text>
<text class="tb" x="812" y="366" font-size="17" text-anchor="start" >1</text>
<text class="tb" x="812" y="411" font-size="17" text-anchor="start" >0.96</text>
<text class="tb" x="812" y="456.3" font-size="17" text-anchor="start" >0.92</text>
</svg>
</body></html>
